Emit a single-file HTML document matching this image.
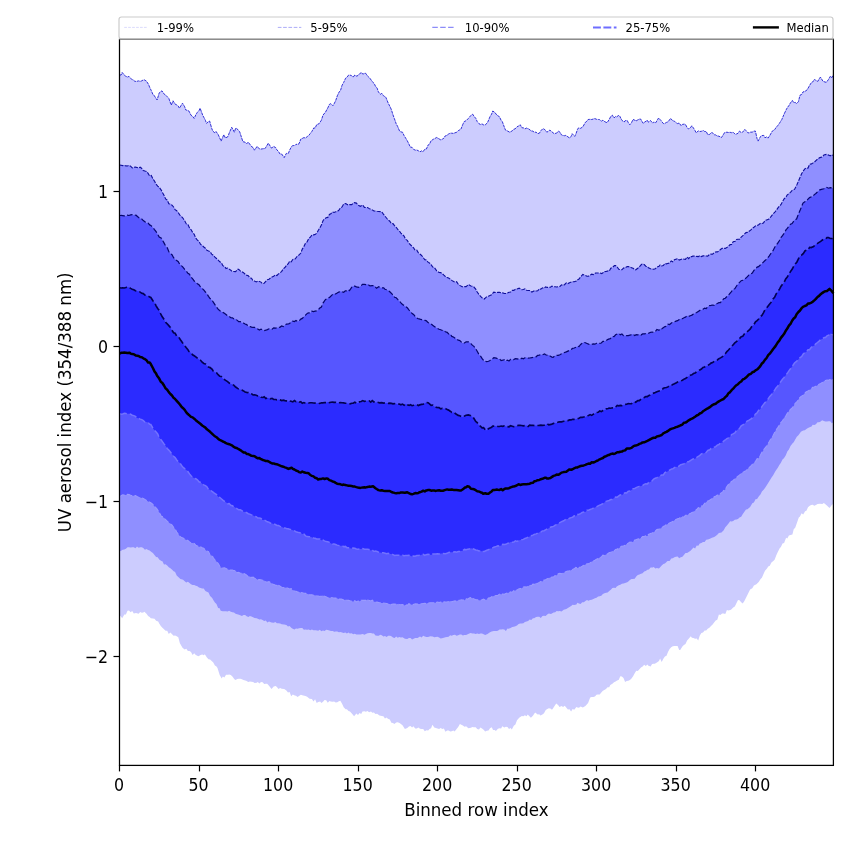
<!DOCTYPE html>
<html><head><meta charset="utf-8"><title>UV aerosol index percentiles</title>
<style>
html,body{margin:0;padding:0;background:#fff;}
body{width:850px;height:850px;overflow:hidden;}
svg{display:block;}
text{font-family:'DejaVu Sans','Liberation Sans',sans-serif;fill:#000;}
.tk{font-size:16.67px;}
.lg{font-size:11.6px;}
</style></head><body>
<svg width="850" height="850" viewBox="0 0 850 850">
<rect width="850" height="850" fill="#fff"/>
<path d="M119.5 75.0 L121.1 75.0 L122.2 72.5 L124.3 75.1 L125.4 76.0 L127.4 77.1 L129.0 76.4 L130.6 78.4 L131.7 79.2 L133.8 80.4 L134.9 81.4 L137.0 81.3 L138.6 80.9 L140.2 81.4 L141.8 80.8 L143.3 79.9 L144.4 79.9 L146.5 81.2 L148.6 84.5 L149.7 87.4 L151.3 90.6 L152.9 94.4 L153.9 95.1 L156.1 98.5 L157.1 100.0 L159.2 93.0 L160.8 91.4 L162.0 90.9 L164.5 94.5 L165.6 95.0 L167.7 97.2 L168.8 98.4 L171.3 105.1 L173.0 100.8 L175.1 104.1 L176.2 104.6 L178.3 106.1 L179.4 108.2 L182.5 103.2 L184.7 106.8 L185.7 109.9 L187.9 110.5 L188.9 111.0 L191.0 115.2 L192.6 116.4 L194.2 118.4 L195.8 114.8 L197.4 112.3 L199.0 110.6 L200.1 108.2 L202.7 115.2 L203.8 117.3 L205.4 120.3 L206.5 123.3 L208.5 121.6 L209.6 121.0 L211.7 128.3 L212.8 131.1 L214.9 132.9 L216.0 131.5 L218.1 134.4 L219.7 137.9 L221.1 141.1 L223.8 134.7 L225.5 138.1 L228.1 136.4 L229.2 133.0 L231.7 127.3 L234.4 132.2 L235.6 128.3 L236.7 128.4 L239.7 131.8 L242.9 141.7 L245.1 142.2 L246.7 143.8 L248.2 142.1 L250.3 144.9 L252.0 147.0 L253.1 147.5 L254.5 150.2 L257.1 146.4 L259.4 148.9 L260.9 149.1 L262.6 148.8 L265.1 148.5 L268.3 143.2 L271.5 148.1 L273.7 146.5 L275.7 147.6 L276.9 149.9 L278.5 151.5 L280.0 154.0 L281.7 154.0 L284.2 157.6 L286.3 153.4 L288.4 153.4 L289.6 150.2 L291.6 146.4 L292.8 145.6 L294.8 145.5 L296.0 144.3 L297.6 144.4 L299.0 143.8 L300.8 139.1 L302.2 138.5 L303.9 137.6 L305.5 138.0 L307.5 136.4 L308.7 135.5 L310.3 133.5 L311.9 131.4 L313.8 127.9 L315.1 128.1 L316.7 124.7 L319.1 123.7 L321.4 120.2 L323.0 115.1 L325.5 112.1 L327.8 107.9 L329.4 104.4 L330.8 103.6 L332.9 105.7 L334.1 103.8 L335.7 100.6 L337.3 95.8 L339.2 91.9 L340.5 90.5 L342.1 85.2 L343.7 82.4 L345.6 78.2 L346.9 77.4 L348.5 75.2 L349.8 75.0 L351.6 75.7 L353.2 77.1 L354.8 75.0 L356.2 76.1 L358.0 75.6 L359.6 73.7 L361.5 72.5 L362.8 74.2 L364.4 73.4 L365.7 73.3 L367.5 76.0 L369.9 78.2 L372.3 81.7 L374.2 83.5 L375.5 86.3 L377.1 88.1 L378.4 91.9 L380.3 94.3 L381.8 93.3 L383.4 95.7 L385.8 97.2 L388.2 103.1 L390.1 106.8 L391.4 109.7 L393.0 114.9 L394.3 118.4 L396.2 123.8 L397.7 126.6 L399.6 131.1 L400.9 131.9 L402.5 132.2 L404.1 135.6 L405.9 138.5 L407.3 140.8 L408.9 144.0 L410.2 147.0 L412.1 147.4 L413.6 149.4 L415.5 150.2 L416.8 150.0 L418.4 150.8 L420.0 151.8 L421.6 150.9 L422.9 151.9 L424.8 149.2 L426.4 149.0 L428.2 144.9 L429.5 144.2 L431.1 140.7 L433.5 139.2 L436.7 137.5 L439.1 138.9 L440.9 140.0 L442.3 139.2 L443.9 138.2 L445.1 136.0 L447.0 135.3 L448.6 134.0 L450.2 133.2 L451.5 133.2 L453.4 133.4 L455.0 132.8 L456.8 132.2 L458.2 130.7 L459.8 129.8 L461.0 129.0 L462.9 124.2 L464.2 121.6 L466.1 120.7 L468.4 118.4 L470.9 115.4 L472.7 114.2 L474.1 116.4 L475.8 118.4 L477.2 121.5 L479.0 123.7 L480.4 124.5 L482.0 123.8 L483.2 124.8 L485.2 124.9 L487.5 122.7 L490.0 116.7 L491.6 114.1 L492.8 111.0 L494.7 112.3 L497.0 115.2 L499.5 116.8 L501.1 120.3 L502.3 121.6 L504.3 127.1 L505.5 130.1 L507.5 131.0 L509.7 132.2 L512.2 130.9 L513.8 129.2 L515.0 129.0 L517.0 126.8 L518.6 126.0 L520.3 124.8 L521.8 127.7 L523.5 127.9 L524.9 128.9 L526.5 128.1 L528.8 129.0 L531.3 131.0 L532.9 131.1 L534.1 132.2 L536.1 132.2 L537.7 133.6 L539.4 133.2 L540.8 130.8 L542.5 129.0 L544.0 128.8 L545.6 130.6 L546.8 132.2 L548.8 130.9 L549.9 130.1 L552.0 131.9 L554.2 133.7 L556.7 133.1 L558.4 131.1 L559.9 132.1 L561.5 134.9 L562.6 135.4 L564.7 135.7 L565.8 135.4 L567.9 136.8 L569.6 138.1 L571.1 136.3 L572.2 133.7 L574.7 136.4 L575.8 134.3 L577.4 129.6 L578.5 127.9 L580.6 128.3 L582.8 126.9 L585.4 122.3 L587.0 121.1 L588.1 119.5 L590.1 119.3 L591.7 119.5 L593.4 119.0 L594.9 118.6 L596.5 119.3 L598.6 119.5 L599.7 119.7 L601.3 121.2 L602.9 120.2 L603.9 121.2 L606.0 122.3 L607.1 122.7 L609.2 119.5 L610.8 116.4 L612.4 115.2 L614.0 118.0 L615.6 116.4 L616.6 116.9 L618.8 115.3 L619.8 116.3 L621.9 120.3 L624.1 122.0 L625.1 120.7 L627.2 120.5 L628.3 122.6 L629.8 124.8 L631.5 122.7 L633.0 119.5 L634.7 120.0 L635.7 121.2 L637.8 119.9 L639.4 119.1 L640.6 119.0 L643.1 123.3 L644.2 122.4 L646.3 121.0 L647.4 120.3 L648.4 122.2 L650.5 120.5 L652.6 123.1 L653.7 122.0 L655.8 122.7 L656.9 120.7 L658.6 118.0 L661.0 120.5 L663.3 123.5 L664.3 123.7 L666.5 122.4 L668.0 121.9 L670.6 118.4 L672.8 120.8 L674.4 121.1 L675.9 122.7 L677.6 123.6 L679.2 123.0 L681.2 125.8 L682.4 124.4 L684.4 124.1 L685.5 124.6 L687.1 127.5 L688.6 129.0 L690.3 127.8 L691.8 125.8 L693.5 128.1 L695.1 130.7 L696.1 132.8 L698.3 130.9 L699.8 131.5 L701.4 131.3 L703.5 130.5 L704.6 131.5 L706.2 131.5 L707.8 134.7 L709.8 134.3 L711.9 132.2 L714.2 134.8 L715.7 134.9 L717.2 136.0 L718.9 136.2 L721.5 137.5 L724.6 132.6 L726.9 132.2 L728.5 132.5 L730.1 132.3 L731.6 132.7 L733.1 132.2 L735.2 134.3 L736.4 134.0 L738.0 133.3 L739.5 131.1 L741.2 132.6 L742.6 132.2 L744.8 129.4 L746.0 130.6 L747.9 132.8 L749.1 132.9 L750.7 132.1 L752.2 132.2 L753.9 131.1 L755.4 131.1 L757.1 138.9 L758.1 141.1 L760.6 136.4 L761.9 135.6 L763.8 135.4 L765.0 137.8 L766.6 136.9 L768.1 138.1 L769.8 135.5 L772.3 131.1 L774.6 129.7 L776.2 127.3 L777.6 125.8 L779.3 123.5 L781.8 119.5 L784.1 114.1 L786.1 109.9 L787.3 107.7 L788.9 105.6 L790.5 102.8 L792.4 100.4 L793.7 102.7 L795.2 102.4 L796.6 103.6 L798.4 101.7 L800.0 95.2 L801.6 94.5 L803.0 91.9 L804.8 91.5 L807.2 89.8 L809.6 85.5 L811.5 82.4 L812.7 82.0 L814.6 79.2 L815.9 80.6 L817.8 81.4 L819.1 79.0 L820.4 77.1 L823.1 81.4 L826.3 82.4 L828.6 79.3 L830.5 76.1 L831.8 77.7 L833.4 74.6 L833.4 503.8 L831.8 504.9 L829.5 508.1 L826.3 504.9 L823.9 503.1 L822.3 503.9 L819.9 503.8 L817.5 504.1 L815.9 504.9 L814.3 505.7 L812.7 504.8 L811.1 505.0 L809.4 506.0 L808.0 507.3 L806.4 510.8 L805.1 511.2 L803.2 514.6 L801.6 513.3 L800.0 516.5 L798.8 517.6 L796.8 523.2 L795.2 527.7 L793.7 529.2 L792.4 534.5 L790.5 535.1 L788.9 535.5 L787.3 538.4 L786.1 537.7 L784.1 543.0 L782.5 543.6 L780.9 547.0 L779.7 548.3 L777.8 551.9 L776.2 555.5 L774.6 559.7 L773.3 561.0 L771.4 562.6 L769.8 565.7 L768.2 566.4 L767.0 568.4 L765.0 570.8 L763.4 574.3 L761.9 577.7 L760.6 579.0 L758.7 582.0 L756.4 584.3 L753.9 585.6 L752.3 588.3 L750.1 589.6 L747.5 594.8 L746.0 597.7 L744.4 601.0 L742.7 603.4 L741.2 602.2 L739.5 600.2 L738.0 599.9 L736.4 603.2 L734.8 606.6 L733.2 607.6 L731.0 609.7 L728.5 610.4 L726.9 610.1 L725.3 614.1 L723.7 613.6 L722.1 613.4 L720.4 615.0 L718.9 614.6 L717.3 619.7 L715.7 620.6 L714.1 622.4 L712.6 624.5 L711.0 625.9 L709.4 627.7 L707.7 628.8 L706.2 630.6 L704.6 630.5 L703.0 632.5 L701.4 633.0 L699.8 635.6 L698.2 640.4 L696.7 638.5 L695.1 638.8 L693.5 638.0 L691.9 637.7 L690.8 636.2 L688.7 638.8 L687.1 640.4 L685.5 644.1 L683.9 645.1 L682.4 646.4 L680.2 649.9 L679.2 650.0 L677.6 646.1 L676.0 645.9 L674.4 645.9 L672.8 646.3 L671.2 647.3 L669.6 648.9 L668.0 651.9 L666.5 655.7 L664.9 656.4 L663.2 659.0 L661.7 662.0 L660.1 658.6 L659.0 661.0 L656.9 662.4 L654.8 663.7 L653.7 663.8 L652.1 664.1 L650.6 666.4 L648.4 665.8 L647.4 664.6 L645.8 666.1 L644.2 664.8 L642.6 666.6 L641.0 667.5 L639.4 669.3 L637.8 671.1 L636.2 670.8 L634.7 673.2 L633.1 676.3 L631.5 678.5 L629.9 680.0 L628.3 680.7 L626.7 680.9 L625.1 682.1 L623.5 678.0 L621.9 676.4 L620.3 676.2 L618.8 679.8 L616.7 680.7 L615.6 681.4 L614.0 682.3 L612.4 683.8 L610.3 684.9 L609.2 687.3 L607.6 687.3 L606.0 689.0 L603.9 690.2 L602.9 690.8 L601.3 692.5 L599.7 694.5 L597.6 694.4 L596.5 694.8 L594.9 696.6 L593.3 697.1 L591.7 697.1 L590.2 697.6 L588.1 702.9 L587.0 704.2 L585.4 706.0 L582.8 707.5 L580.6 706.4 L579.0 707.7 L577.4 707.5 L576.4 707.1 L574.2 709.8 L572.6 708.9 L571.1 711.4 L569.5 709.3 L567.9 709.6 L565.8 707.1 L564.7 705.8 L563.1 707.0 L561.5 705.9 L559.5 707.1 L558.3 705.3 L556.3 703.5 L555.2 705.1 L553.1 708.2 L552.0 709.7 L550.4 708.4 L548.8 708.3 L546.8 709.2 L545.6 710.2 L544.0 713.2 L542.4 714.4 L540.4 715.6 L539.3 714.3 L537.7 714.6 L535.1 712.4 L532.9 715.8 L530.9 717.7 L529.7 716.5 L527.7 714.5 L526.5 716.2 L524.9 715.3 L523.4 716.3 L521.8 715.9 L519.2 717.7 L517.0 720.2 L515.4 724.4 L513.8 725.7 L511.8 729.4 L510.6 727.9 L509.0 729.0 L507.5 726.9 L505.9 726.7 L504.3 727.6 L502.3 726.2 L501.1 728.6 L499.5 728.2 L497.9 728.8 L495.9 731.0 L494.7 730.1 L493.1 729.9 L491.7 727.2 L490.0 728.2 L488.5 730.4 L486.8 730.8 L485.2 731.6 L483.6 729.7 L482.0 728.5 L480.4 727.5 L479.0 729.5 L477.2 728.9 L475.7 727.3 L473.7 727.2 L472.5 727.0 L470.9 727.7 L468.4 728.3 L466.1 726.3 L464.5 726.7 L462.9 725.6 L461.3 724.8 L459.9 724.1 L458.2 726.9 L456.6 729.0 L454.6 731.5 L453.4 730.6 L451.8 731.3 L450.2 731.5 L448.6 730.5 L447.2 730.4 L445.4 731.7 L443.9 728.4 L442.3 729.1 L440.7 728.1 L439.1 728.9 L436.7 728.3 L434.3 727.5 L432.4 724.7 L431.1 728.3 L429.5 729.0 L428.2 730.4 L426.4 730.2 L424.8 731.3 L423.2 729.0 L421.8 728.9 L420.0 728.8 L418.4 727.4 L416.8 728.6 L415.2 728.4 L413.4 726.2 L412.1 727.4 L410.5 725.9 L408.9 726.5 L407.3 728.0 L404.9 728.9 L402.5 725.2 L400.9 723.9 L399.6 723.0 L397.7 722.3 L396.2 722.4 L394.3 724.1 L393.0 722.9 L391.4 722.7 L389.8 719.4 L387.9 718.8 L386.6 717.4 L385.0 718.6 L383.4 716.2 L381.8 716.0 L379.5 715.6 L377.1 713.7 L375.5 714.0 L373.9 712.6 L372.3 712.7 L371.0 711.4 L369.1 712.2 L367.5 711.0 L365.9 711.7 L364.4 711.2 L362.5 711.4 L361.2 714.0 L359.6 712.9 L358.0 714.9 L356.4 713.5 L354.1 716.2 L351.6 713.3 L350.0 711.6 L348.5 710.9 L346.9 709.3 L345.6 709.2 L343.7 707.2 L342.1 703.8 L340.3 700.8 L338.9 701.3 L337.3 702.3 L335.7 702.6 L334.1 701.5 L332.6 701.7 L330.8 701.4 L329.4 701.1 L327.8 702.7 L326.2 700.3 L324.6 700.0 L323.0 701.7 L321.4 703.0 L320.2 701.4 L318.2 701.9 L316.7 702.9 L315.1 699.2 L313.5 701.4 L311.9 699.1 L309.6 698.7 L307.1 696.8 L305.5 696.0 L303.2 695.5 L300.8 694.7 L299.0 696.0 L297.6 697.0 L296.0 695.7 L294.8 695.5 L292.8 694.6 L291.2 696.2 L289.6 692.0 L288.0 692.6 L286.4 690.4 L284.2 689.1 L281.7 688.7 L280.1 688.1 L278.5 689.1 L276.9 686.9 L275.7 686.0 L273.7 686.5 L271.5 689.1 L269.0 685.8 L267.2 683.8 L265.8 683.7 L264.2 684.1 L262.6 682.3 L261.0 682.1 L259.4 683.4 L257.8 682.0 L256.7 682.8 L254.6 683.1 L253.1 682.0 L251.5 681.7 L249.9 681.5 L248.3 682.0 L246.1 680.7 L243.5 680.0 L241.9 679.3 L240.3 678.8 L238.7 678.7 L237.2 678.9 L235.6 679.9 L234.4 679.2 L232.4 676.5 L230.8 675.1 L229.2 674.6 L228.1 674.7 L226.0 674.8 L224.4 677.4 L222.8 676.5 L221.7 678.5 L219.7 675.0 L217.5 668.0 L216.5 666.5 L214.9 665.5 L213.3 662.4 L212.2 661.6 L210.1 659.5 L208.5 659.2 L206.9 657.5 L204.8 654.2 L203.8 655.3 L202.2 654.6 L200.6 655.1 L198.4 656.3 L195.8 655.0 L194.2 653.2 L192.6 654.9 L191.0 652.1 L189.5 651.0 L187.9 650.9 L186.3 648.7 L184.7 649.5 L182.5 647.8 L179.9 643.3 L178.3 637.2 L176.7 636.2 L175.1 635.6 L173.6 635.7 L171.9 634.1 L170.4 632.4 L168.8 633.9 L167.2 630.8 L165.6 630.8 L163.5 628.8 L162.4 627.8 L160.8 625.9 L159.2 623.4 L158.2 621.4 L156.1 620.7 L154.5 618.8 L152.9 618.4 L150.8 618.2 L149.7 617.0 L148.1 616.0 L146.5 613.8 L144.4 611.8 L143.3 612.6 L141.8 612.7 L140.2 611.9 L138.6 613.8 L136.0 612.9 L133.8 613.5 L132.2 611.1 L130.6 612.3 L129.0 610.4 L127.5 610.8 L125.9 614.4 L124.3 614.6 L122.2 618.2 L121.1 616.8 L119.5 615.0Z" fill="#ccccfe"/>
<path d="M119.5 165.0 L121.1 165.3 L122.7 165.6 L124.3 165.3 L125.9 165.9 L127.5 166.0 L129.0 165.4 L130.6 166.2 L132.2 167.9 L133.8 167.2 L135.4 167.1 L137.0 167.5 L138.6 168.1 L140.2 167.1 L141.8 168.5 L143.3 170.5 L144.9 171.0 L146.5 171.4 L148.1 173.4 L149.7 176.1 L151.3 175.5 L152.9 178.8 L154.5 181.1 L156.0 184.0 L157.7 186.1 L159.2 187.3 L161.4 190.4 L162.4 192.4 L164.0 195.3 L165.6 198.9 L167.2 200.1 L168.8 203.7 L170.4 204.0 L172.0 205.2 L173.6 207.0 L175.1 209.7 L176.7 210.7 L178.3 212.7 L179.9 215.1 L182.5 217.5 L184.7 220.8 L186.3 223.9 L187.9 224.3 L189.5 227.9 L191.0 229.6 L192.6 232.4 L194.2 234.3 L195.8 238.2 L197.4 240.2 L199.0 241.3 L200.6 244.4 L202.2 245.3 L203.8 247.0 L205.4 248.2 L206.9 250.3 L208.0 250.8 L210.1 251.6 L211.7 254.2 L213.3 255.2 L214.9 257.2 L216.5 258.5 L218.5 260.3 L219.7 261.8 L221.3 262.5 L222.8 265.7 L224.9 266.6 L226.0 268.6 L227.6 268.0 L229.2 269.1 L230.8 270.2 L232.4 271.7 L233.4 271.5 L235.6 271.6 L237.6 269.4 L238.7 269.4 L240.3 270.9 L241.9 271.7 L243.5 272.7 L246.1 275.1 L248.3 275.7 L249.9 278.0 L251.5 278.2 L253.1 280.9 L254.5 281.0 L256.2 281.9 L257.8 281.1 L259.4 281.5 L261.0 282.1 L262.6 283.7 L264.1 283.2 L265.8 281.3 L267.4 279.7 L269.0 279.2 L271.5 277.2 L273.7 276.3 L275.3 274.9 L276.9 275.5 L278.5 273.9 L280.0 273.0 L281.7 271.4 L283.3 268.8 L284.9 267.5 L286.4 265.6 L288.4 263.5 L289.6 261.3 L291.2 261.8 L292.8 259.5 L294.8 259.2 L296.0 258.0 L297.6 255.5 L299.0 255.0 L300.8 253.0 L302.3 249.1 L303.9 246.6 L305.4 243.4 L307.1 241.8 L308.7 238.5 L310.6 237.0 L311.9 234.8 L313.5 234.9 L315.1 234.6 L317.0 232.8 L318.2 230.5 L319.8 228.0 L321.4 225.1 L323.0 220.7 L324.4 219.0 L326.2 217.7 L327.8 217.4 L329.4 214.5 L330.8 213.7 L332.6 211.9 L334.1 212.4 L335.7 211.8 L337.1 211.6 L338.9 210.1 L340.5 207.8 L342.1 206.9 L343.7 204.0 L345.6 203.5 L346.9 204.3 L348.5 205.2 L349.8 204.6 L351.6 204.6 L354.1 202.7 L356.4 203.1 L358.0 205.1 L360.4 206.3 L362.8 205.1 L364.4 207.4 L365.9 207.6 L367.5 207.5 L368.9 208.4 L370.7 209.4 L372.3 209.9 L373.9 211.0 L375.2 211.0 L377.1 211.3 L378.7 211.5 L380.5 211.6 L381.8 211.9 L383.4 214.1 L385.0 216.2 L386.9 218.5 L388.2 219.9 L389.8 221.2 L391.4 223.6 L393.0 223.6 L394.3 225.4 L396.2 227.3 L397.7 229.4 L399.3 230.9 L400.9 233.1 L402.8 234.9 L404.1 236.2 L405.7 239.4 L407.3 240.4 L408.9 243.2 L411.2 245.5 L413.6 247.9 L415.2 250.4 L416.8 250.2 L418.4 252.9 L419.7 253.9 L421.6 255.5 L423.2 257.5 L424.8 259.7 L426.4 259.9 L428.2 262.4 L429.5 263.0 L431.1 264.7 L432.7 267.1 L434.3 267.4 L436.7 270.9 L439.1 272.5 L440.7 272.6 L442.3 273.7 L443.9 275.2 L445.1 276.2 L447.0 277.6 L448.6 278.0 L450.2 279.1 L451.8 280.4 L453.6 281.5 L455.0 282.2 L456.6 281.7 L458.2 284.1 L459.8 285.4 L462.1 286.8 L464.5 286.6 L466.1 286.6 L468.4 284.6 L470.9 286.0 L472.5 286.3 L473.7 286.8 L475.7 289.1 L477.2 292.0 L479.0 294.5 L480.4 296.2 L482.0 297.8 L484.3 299.0 L486.8 296.7 L488.4 296.2 L490.0 295.4 L491.6 294.8 L493.8 292.1 L496.3 292.6 L497.9 292.3 L499.5 292.4 L501.1 292.8 L502.7 292.9 L504.4 293.5 L505.9 293.5 L507.5 293.0 L509.0 292.3 L510.6 292.0 L512.2 290.4 L513.8 290.4 L515.4 289.3 L517.0 289.0 L519.2 288.2 L521.8 289.7 L523.4 289.5 L524.9 288.8 L526.5 290.3 L528.1 290.5 L529.7 290.5 L531.9 292.1 L534.5 290.6 L536.1 291.0 L537.7 290.8 L539.3 288.8 L540.8 289.1 L542.5 287.8 L544.0 288.4 L545.6 286.9 L547.2 287.4 L548.8 287.3 L550.4 287.3 L552.0 286.1 L553.6 286.7 L555.2 286.8 L556.7 287.0 L558.3 286.7 L559.9 286.5 L561.5 284.8 L563.1 285.6 L564.7 284.5 L566.3 282.8 L567.9 283.6 L570.1 282.5 L572.6 281.7 L574.2 281.8 L576.4 281.0 L577.4 279.9 L579.0 279.1 L580.6 276.9 L582.8 274.5 L585.4 275.4 L587.0 276.2 L588.5 276.2 L590.1 275.2 L591.7 274.2 L593.3 274.6 L595.5 273.0 L598.1 273.0 L599.7 273.0 L601.8 273.6 L602.9 272.8 L604.4 271.6 L606.0 271.5 L608.2 270.9 L609.2 271.2 L610.8 268.2 L612.4 267.4 L614.5 265.6 L615.6 265.6 L617.2 267.0 L618.8 269.3 L620.9 269.8 L621.9 269.8 L623.5 268.1 L625.1 267.7 L627.2 266.6 L628.3 266.5 L629.9 267.1 L631.5 267.7 L633.1 268.3 L634.7 269.6 L635.7 269.8 L637.8 268.3 L639.4 266.8 L641.0 265.0 L642.1 264.1 L644.2 264.5 L645.8 266.2 L647.4 266.6 L648.4 267.7 L650.6 268.8 L652.1 269.1 L653.7 269.2 L655.3 268.8 L656.9 267.2 L659.0 266.3 L660.1 264.9 L661.7 266.0 L663.3 265.6 L664.9 263.5 L666.5 263.9 L667.5 263.5 L669.6 263.1 L671.2 260.9 L672.8 261.8 L674.4 259.8 L675.9 259.2 L677.6 258.6 L679.2 260.0 L680.8 259.4 L682.4 258.8 L684.4 259.2 L685.5 259.3 L687.1 257.0 L688.7 258.7 L690.3 256.6 L691.9 256.6 L692.9 256.1 L695.1 255.9 L696.7 256.4 L698.3 256.6 L699.8 255.6 L701.4 256.6 L703.0 255.9 L704.6 255.7 L706.2 256.0 L707.7 256.1 L709.4 254.6 L711.0 254.0 L712.6 254.2 L714.2 252.7 L716.2 251.8 L717.3 252.0 L718.9 251.0 L720.5 249.5 L722.1 248.3 L723.7 248.4 L725.3 248.4 L726.8 247.6 L728.5 246.3 L730.1 244.6 L731.6 244.5 L733.2 241.7 L735.2 241.2 L736.4 239.5 L738.0 239.2 L739.6 239.3 L741.2 237.0 L743.7 234.9 L746.0 232.6 L747.5 232.4 L749.1 231.2 L750.7 230.2 L752.2 228.5 L753.9 227.2 L755.5 225.9 L757.1 225.5 L758.7 224.7 L760.6 223.2 L761.9 223.5 L763.4 223.1 L765.0 220.6 L766.6 219.9 L769.1 219.0 L771.4 216.1 L773.0 214.0 L774.6 212.5 L776.2 210.5 L777.6 208.4 L779.3 206.2 L780.9 204.7 L782.5 201.6 L784.1 198.9 L786.1 196.8 L787.3 194.8 L788.9 193.7 L790.5 192.3 L792.1 190.4 L794.5 189.4 L796.8 184.9 L798.4 181.2 L800.0 177.5 L801.6 173.8 L803.0 171.4 L804.8 168.9 L806.4 167.9 L808.0 168.1 L809.6 164.3 L811.5 163.9 L812.7 163.1 L814.3 162.2 L815.9 160.7 L817.5 159.2 L819.9 157.6 L822.3 156.9 L823.9 155.0 L826.3 154.4 L828.6 155.1 L830.2 155.9 L831.8 154.6 L833.4 155.5 L833.4 422.3 L831.8 423.2 L830.2 421.3 L828.4 421.2 L827.0 421.4 L825.5 421.4 L823.9 420.9 L822.1 420.2 L820.7 421.6 L819.1 422.2 L817.5 422.3 L815.9 424.2 L814.3 425.0 L812.7 424.7 L811.5 426.5 L809.6 427.2 L808.0 428.1 L806.4 429.0 L804.8 430.2 L803.2 430.4 L800.9 431.8 L798.4 435.3 L796.8 436.7 L795.2 439.6 L793.7 442.2 L792.4 443.5 L790.5 446.1 L788.9 449.4 L787.3 451.6 L785.7 455.5 L783.9 458.3 L782.5 459.5 L780.9 462.8 L779.3 464.9 L777.8 467.8 L775.5 471.0 L773.0 475.5 L771.4 477.7 L769.1 481.6 L766.6 485.6 L765.0 487.9 L763.4 490.1 L761.9 491.4 L760.6 494.3 L758.7 496.6 L757.1 499.1 L755.5 499.2 L753.9 502.6 L752.3 503.3 L750.1 507.0 L747.5 509.3 L746.0 509.6 L744.4 511.8 L742.8 513.9 L741.2 516.8 L739.5 517.6 L738.0 519.0 L736.4 519.4 L734.8 519.7 L733.2 521.0 L731.6 521.4 L730.1 521.2 L728.9 522.9 L726.9 525.6 L725.3 527.2 L723.7 530.2 L721.5 532.4 L718.9 533.0 L717.3 534.7 L715.7 536.1 L714.2 537.1 L711.9 537.7 L709.4 538.9 L707.8 539.5 L706.2 539.8 L704.6 541.9 L703.0 541.9 L701.4 543.0 L699.8 543.6 L698.3 545.8 L696.7 545.4 L695.1 548.4 L693.5 547.5 L691.9 549.2 L690.8 550.4 L688.7 552.0 L687.1 552.9 L685.5 553.0 L683.9 554.9 L682.4 556.7 L680.2 557.4 L679.2 558.3 L677.6 556.4 L675.9 556.8 L674.4 557.3 L672.8 558.3 L671.2 558.6 L669.6 560.9 L667.5 561.0 L666.5 561.9 L664.9 563.4 L663.3 563.9 L661.7 565.6 L660.1 567.3 L659.0 568.4 L656.9 568.1 L655.3 568.5 L653.7 566.9 L652.7 567.4 L650.6 567.6 L649.0 569.5 L647.4 569.8 L645.8 570.9 L644.2 571.6 L642.6 573.2 L641.0 573.8 L639.4 574.4 L637.8 575.1 L636.2 576.6 L634.7 578.8 L632.5 579.0 L631.5 578.9 L629.9 580.1 L628.3 581.6 L627.2 582.2 L625.1 583.0 L623.5 583.5 L621.9 583.7 L620.3 584.8 L618.8 585.2 L616.7 586.4 L615.6 587.9 L614.0 587.8 L612.4 588.0 L610.8 589.8 L609.2 591.1 L607.6 592.4 L606.1 592.8 L604.4 593.3 L602.9 594.0 L601.3 595.7 L599.7 596.2 L598.1 596.4 L596.5 597.8 L594.9 598.3 L593.4 599.1 L591.7 599.8 L590.1 599.9 L588.5 600.7 L587.0 599.9 L585.4 601.0 L583.8 602.3 L582.2 602.3 L580.6 604.0 L579.0 603.4 L577.4 602.7 L576.4 604.4 L574.2 605.1 L572.6 604.8 L571.1 606.1 L569.5 606.9 L567.9 608.0 L566.3 609.0 L563.7 609.7 L561.5 611.5 L559.9 610.9 L558.3 611.2 L556.7 611.0 L555.2 612.2 L553.6 612.6 L551.0 613.9 L548.8 613.6 L547.2 614.6 L545.6 616.1 L544.0 615.8 L542.4 616.1 L540.8 618.0 L539.3 616.8 L537.7 616.7 L536.1 617.0 L534.1 618.2 L532.9 618.2 L531.3 620.0 L529.7 619.5 L528.1 621.0 L526.5 621.4 L524.9 622.1 L523.4 623.2 L521.4 623.5 L520.2 623.4 L518.6 624.0 L517.0 625.5 L515.4 626.2 L513.8 626.7 L512.2 627.0 L510.6 628.1 L508.6 628.8 L507.5 628.5 L505.9 631.0 L504.3 629.6 L502.7 629.3 L501.1 629.5 L499.5 629.6 L497.9 630.7 L496.3 631.0 L493.8 630.9 L491.6 631.4 L490.0 632.3 L487.5 634.1 L485.2 635.1 L483.6 634.2 L482.0 633.6 L480.4 633.5 L479.0 634.1 L477.2 633.6 L475.7 633.9 L474.1 633.5 L472.5 633.5 L470.5 633.0 L469.3 633.4 L467.7 634.2 L466.1 634.9 L464.2 635.1 L462.9 635.6 L461.3 634.5 L459.8 634.6 L458.2 635.2 L456.6 635.7 L455.0 634.7 L453.4 635.1 L451.5 635.8 L450.2 635.3 L448.6 636.8 L447.0 637.1 L445.4 637.3 L443.0 637.9 L440.7 638.6 L439.1 637.4 L437.5 636.7 L435.9 637.1 L434.3 637.2 L432.7 636.6 L430.3 636.2 L428.0 637.0 L426.4 637.1 L424.8 636.4 L423.2 635.8 L421.6 637.5 L420.0 636.5 L417.6 637.9 L415.2 637.9 L413.6 638.7 L412.1 639.4 L410.5 637.9 L408.9 637.9 L407.3 638.9 L404.9 638.7 L402.5 637.2 L400.9 637.6 L399.3 637.0 L397.7 637.8 L396.2 636.4 L394.6 637.9 L393.0 637.5 L391.4 636.3 L390.1 635.8 L388.2 635.8 L386.6 637.1 L385.0 635.9 L383.4 636.6 L381.8 635.2 L380.3 634.8 L378.7 635.8 L377.4 635.8 L375.5 635.6 L373.9 633.4 L372.3 633.6 L371.0 633.0 L369.1 633.0 L367.5 633.2 L365.9 634.0 L364.4 634.8 L362.8 634.1 L360.4 634.5 L358.0 634.4 L356.4 634.4 L354.8 633.7 L353.2 634.3 L351.6 633.3 L349.8 633.6 L348.5 632.5 L346.9 633.4 L345.3 632.5 L343.7 632.9 L342.1 632.5 L340.5 632.0 L338.9 632.2 L337.3 631.5 L335.7 631.6 L334.1 631.8 L332.9 630.9 L331.0 631.1 L329.4 630.5 L327.8 630.0 L326.2 629.8 L324.6 631.0 L323.0 630.6 L321.4 631.3 L319.8 629.8 L318.2 630.7 L315.9 630.2 L313.5 630.3 L311.9 629.5 L310.3 630.3 L308.7 629.4 L307.1 629.7 L305.5 629.6 L303.9 629.7 L302.3 627.9 L300.8 628.0 L299.0 628.3 L297.6 628.8 L296.0 628.6 L294.4 629.5 L292.7 628.8 L291.2 627.8 L289.6 626.1 L288.0 626.6 L286.4 625.0 L284.2 624.5 L281.7 624.3 L280.1 623.4 L278.5 623.2 L276.9 623.2 L275.3 621.9 L273.7 622.8 L271.5 622.4 L269.0 621.5 L267.4 622.6 L265.8 620.6 L264.2 621.1 L262.6 620.1 L261.0 619.3 L259.4 619.5 L257.8 618.7 L256.7 618.2 L254.6 618.0 L253.1 617.3 L251.5 616.6 L249.9 616.0 L248.3 616.9 L246.7 616.3 L245.1 615.1 L243.5 615.0 L241.9 615.9 L239.7 615.0 L237.2 614.2 L235.6 613.8 L234.0 612.6 L232.4 612.3 L230.8 611.8 L229.1 610.8 L227.6 611.6 L226.0 611.3 L224.4 611.2 L222.8 611.3 L220.7 610.8 L219.7 608.3 L218.1 608.0 L216.5 604.1 L214.9 602.4 L213.3 600.0 L212.2 598.1 L210.1 595.9 L208.5 592.5 L206.9 591.8 L205.4 590.9 L203.7 588.5 L202.2 588.6 L200.6 587.9 L199.0 587.4 L197.4 586.3 L195.8 585.7 L194.2 584.9 L192.6 584.9 L191.0 584.3 L189.5 582.9 L187.9 581.7 L186.3 582.6 L184.7 581.3 L183.1 579.7 L181.5 579.3 L180.4 579.0 L178.3 577.1 L176.7 575.4 L175.1 572.1 L173.6 571.3 L171.9 569.5 L170.4 568.3 L168.8 567.2 L167.2 565.4 L165.6 564.2 L164.0 564.4 L162.4 561.2 L161.4 561.0 L159.2 559.6 L157.7 557.3 L156.1 556.9 L154.5 555.0 L152.9 553.1 L150.8 551.5 L149.7 550.4 L148.1 549.9 L146.5 549.0 L144.9 549.7 L143.3 548.1 L141.8 547.3 L140.2 547.2 L138.6 547.7 L137.0 546.5 L135.4 548.3 L133.8 547.2 L132.2 547.3 L130.6 547.5 L129.0 547.2 L127.5 547.2 L125.9 548.7 L124.3 549.6 L122.7 549.7 L121.1 550.7 L119.5 551.5Z" fill="#8f8fff"/>
<path d="M119.5 215.8 L121.1 215.3 L122.7 215.6 L124.3 215.9 L125.9 215.9 L127.5 215.2 L129.0 215.5 L130.6 214.9 L132.2 214.7 L133.8 215.3 L136.0 215.2 L138.6 217.4 L140.2 218.5 L141.8 219.0 L143.3 220.6 L144.9 221.7 L146.5 223.1 L148.1 223.2 L149.7 224.9 L150.8 225.4 L152.9 227.4 L154.5 229.6 L156.1 231.7 L157.7 234.3 L159.2 237.0 L161.4 238.1 L162.4 240.0 L164.0 242.9 L165.6 246.0 L167.2 247.7 L168.8 251.5 L169.8 252.9 L172.0 254.7 L173.6 257.7 L175.1 259.3 L176.7 260.6 L178.3 261.7 L179.9 264.6 L182.5 266.6 L184.7 269.4 L186.3 271.2 L187.9 273.3 L189.5 274.2 L191.0 277.1 L193.1 279.4 L194.2 281.0 L195.8 282.2 L197.4 283.7 L199.0 284.8 L200.6 287.1 L202.2 288.5 L203.7 289.9 L205.4 292.0 L206.9 293.7 L208.5 296.3 L210.1 298.5 L212.2 300.5 L213.3 302.2 L214.9 304.6 L216.5 306.9 L218.1 309.2 L219.6 310.5 L221.3 311.6 L222.8 312.4 L224.4 313.3 L226.0 314.5 L227.6 315.7 L229.1 316.4 L230.8 317.7 L232.4 317.8 L234.0 318.9 L235.6 319.1 L237.6 320.6 L238.7 321.7 L240.3 321.7 L241.9 322.8 L243.5 323.1 L245.1 324.0 L246.7 324.6 L248.3 326.4 L250.3 326.6 L251.5 327.1 L253.1 327.3 L254.6 327.4 L256.2 328.0 L257.8 329.0 L259.4 330.0 L261.0 329.1 L262.6 329.8 L264.1 330.6 L265.8 330.2 L267.4 329.6 L269.0 328.8 L270.5 329.2 L272.1 329.2 L273.7 327.8 L275.7 328.1 L276.9 327.8 L278.5 327.6 L280.1 327.1 L281.7 325.9 L283.3 326.6 L284.9 325.2 L286.4 324.1 L288.4 323.8 L289.6 323.5 L291.2 321.5 L292.7 321.1 L294.4 321.5 L296.0 320.5 L297.6 321.4 L299.0 321.0 L300.8 319.1 L302.3 318.4 L303.9 316.8 L305.5 315.2 L307.5 313.2 L308.7 312.9 L310.3 312.9 L311.9 311.1 L313.5 311.6 L315.1 311.2 L316.7 310.8 L318.1 310.1 L319.8 308.0 L321.4 307.0 L323.0 303.1 L325.5 299.5 L327.8 298.6 L330.0 297.0 L333.0 294.1 L334.1 293.8 L335.7 294.0 L338.0 292.6 L340.5 291.2 L342.0 291.8 L343.7 292.3 L345.3 290.9 L347.0 290.9 L348.5 289.7 L349.5 290.6 L352.5 286.2 L354.8 286.2 L356.4 286.9 L358.5 287.4 L359.6 286.8 L361.0 285.9 L362.5 284.4 L364.4 284.3 L365.9 284.6 L367.5 284.2 L370.0 285.9 L372.3 285.7 L374.0 285.6 L375.5 287.1 L376.5 288.2 L378.7 286.7 L380.0 287.4 L381.8 287.8 L383.7 287.8 L385.0 289.3 L386.6 289.8 L388.2 290.3 L389.8 291.8 L392.2 294.2 L394.6 297.3 L396.2 297.8 L397.7 299.4 L399.3 300.9 L400.7 302.6 L402.5 304.5 L404.1 305.4 L405.7 306.7 L407.3 307.8 L409.1 310.1 L410.5 311.4 L412.1 313.5 L413.6 314.5 L415.2 316.6 L417.6 318.5 L420.0 319.2 L421.6 319.6 L423.2 320.0 L424.8 320.3 L426.1 320.6 L428.0 322.4 L429.5 323.3 L431.1 323.9 L432.7 325.3 L434.3 326.4 L436.7 328.1 L439.1 329.3 L440.7 329.8 L442.3 330.5 L443.9 330.3 L445.4 331.8 L447.2 332.3 L448.6 333.9 L450.2 333.9 L451.8 336.4 L453.4 337.0 L455.7 338.6 L458.2 340.2 L459.8 340.5 L462.1 342.9 L464.5 343.0 L466.1 341.8 L468.4 341.8 L470.9 343.6 L472.5 345.4 L473.7 346.1 L475.7 348.7 L477.2 351.3 L479.0 354.5 L480.4 355.8 L482.0 358.3 L484.3 361.3 L486.8 361.6 L488.5 361.3 L490.0 360.5 L491.6 359.4 L493.8 357.7 L496.3 358.2 L497.9 358.9 L499.5 358.9 L501.1 360.6 L502.7 360.2 L504.3 359.7 L505.5 360.9 L507.5 360.1 L509.0 361.0 L510.6 359.4 L512.2 359.5 L513.8 359.6 L515.4 358.6 L517.1 358.8 L518.6 359.2 L520.2 359.3 L521.8 358.1 L523.4 358.8 L524.9 357.8 L526.5 357.6 L528.1 358.1 L529.7 358.0 L531.9 357.7 L534.5 356.7 L536.1 356.8 L537.7 355.3 L539.3 355.1 L540.8 354.5 L542.4 354.9 L544.6 353.9 L545.6 354.7 L547.2 355.2 L548.8 355.0 L550.4 356.3 L552.0 357.1 L553.1 357.3 L555.2 355.7 L556.7 355.4 L558.3 355.4 L559.9 354.7 L561.5 353.8 L563.7 352.8 L566.3 351.9 L567.9 351.1 L569.5 350.3 L571.1 349.5 L572.6 348.4 L574.2 348.0 L576.4 347.1 L577.4 346.3 L579.0 346.5 L580.6 344.5 L582.2 343.3 L583.8 342.3 L585.4 342.8 L587.0 343.5 L589.1 344.4 L590.1 344.2 L591.7 344.4 L593.3 343.9 L594.9 344.2 L596.5 343.3 L598.1 343.6 L599.7 343.3 L601.3 343.0 L602.9 341.4 L604.4 341.3 L606.0 340.6 L607.6 339.6 L609.2 338.9 L610.3 338.6 L612.4 336.4 L614.0 336.7 L615.6 334.8 L617.7 333.8 L618.8 333.5 L620.3 334.7 L621.9 333.9 L623.5 335.6 L625.1 335.5 L626.7 335.6 L628.3 335.6 L629.9 335.2 L631.5 334.6 L633.1 334.2 L634.7 335.6 L636.2 334.7 L637.8 334.8 L639.4 334.4 L641.0 335.1 L642.6 333.9 L644.2 333.8 L645.8 333.6 L647.4 333.5 L648.4 333.4 L650.6 332.3 L652.1 332.0 L653.7 332.4 L655.3 331.7 L656.9 329.5 L659.0 330.2 L660.1 328.7 L661.7 328.8 L663.3 327.7 L664.9 326.6 L666.5 326.3 L668.0 324.1 L669.6 324.5 L671.7 322.8 L672.8 322.4 L674.4 321.9 L676.0 321.1 L677.6 320.7 L679.2 319.6 L680.8 318.8 L682.4 318.7 L684.4 317.5 L685.5 317.1 L687.1 315.8 L688.7 316.4 L690.3 315.7 L691.9 315.1 L693.5 313.9 L695.0 313.2 L696.7 312.5 L698.3 311.4 L699.8 310.4 L701.4 310.0 L703.0 309.3 L704.6 308.1 L706.2 308.5 L707.7 306.9 L709.4 305.6 L711.0 305.4 L712.6 305.0 L714.2 305.3 L715.7 304.1 L717.3 303.5 L718.9 302.7 L720.4 302.6 L722.1 300.6 L723.7 298.8 L725.3 298.2 L726.9 296.5 L728.5 295.1 L731.0 292.1 L733.2 289.2 L734.8 288.8 L737.4 284.6 L739.6 282.4 L741.2 280.7 L742.8 280.2 L744.4 279.1 L746.0 278.1 L747.9 276.2 L749.1 274.6 L750.7 273.9 L752.3 273.0 L753.9 270.4 L755.5 269.0 L757.1 267.1 L758.5 266.6 L760.3 265.0 L761.9 263.7 L763.4 262.1 L765.0 260.5 L766.6 259.2 L769.1 256.1 L771.4 252.7 L773.0 250.7 L774.6 247.5 L776.2 245.2 L777.6 243.4 L779.3 240.7 L780.9 237.6 L782.5 235.7 L784.1 233.4 L786.1 229.6 L787.3 228.4 L788.9 226.1 L790.5 224.3 L792.1 223.5 L794.5 220.1 L796.6 219.0 L798.4 214.1 L800.0 210.6 L801.6 206.5 L803.0 203.1 L804.8 201.8 L806.4 201.1 L808.0 199.2 L809.6 197.6 L811.5 196.8 L812.7 196.4 L814.3 194.6 L815.9 193.5 L817.5 191.8 L819.9 189.8 L822.3 189.2 L823.9 188.8 L826.3 187.2 L828.6 188.2 L830.2 187.7 L831.8 187.9 L833.4 188.3 L833.4 380.0 L831.8 379.8 L830.5 378.9 L828.6 380.3 L827.0 380.0 L825.5 380.4 L824.2 381.0 L822.3 382.6 L820.7 383.5 L819.1 384.3 L817.5 385.3 L815.7 386.3 L814.3 387.0 L812.7 387.3 L811.1 389.0 L809.6 390.0 L808.0 391.1 L806.4 391.7 L805.1 392.7 L803.2 395.1 L801.6 396.1 L800.0 397.3 L798.8 399.0 L796.8 402.0 L795.2 403.3 L793.7 405.9 L792.1 407.8 L790.3 409.6 L788.9 411.2 L787.3 413.4 L785.7 416.3 L783.9 418.1 L782.5 421.0 L780.9 422.5 L779.3 425.2 L777.8 427.6 L775.5 430.8 L773.0 435.8 L771.4 438.0 L769.8 440.7 L768.2 443.4 L767.0 445.6 L765.0 448.2 L763.4 450.2 L761.9 452.4 L760.3 455.5 L758.5 458.3 L757.1 458.8 L755.5 461.6 L753.9 463.0 L752.3 464.4 L750.1 466.8 L747.5 468.9 L746.0 470.8 L744.4 471.4 L742.8 472.5 L741.2 473.3 L739.5 475.2 L738.0 476.2 L736.4 477.7 L734.8 478.8 L733.2 480.5 L731.6 481.5 L730.1 482.8 L728.9 483.7 L726.9 486.5 L725.3 489.4 L723.7 490.4 L722.5 492.2 L720.5 493.3 L718.9 495.5 L717.3 495.0 L715.7 496.3 L714.2 496.8 L711.9 498.5 L709.4 500.4 L707.8 501.1 L706.2 502.0 L704.6 503.4 L703.0 505.8 L701.4 506.0 L699.8 508.2 L698.3 507.6 L696.7 509.5 L695.1 510.6 L693.5 512.0 L691.9 512.4 L690.8 513.4 L688.7 514.0 L687.1 515.2 L685.5 515.2 L683.9 517.1 L682.4 516.8 L680.2 517.6 L679.2 518.2 L677.6 518.7 L676.0 519.5 L674.4 520.3 L672.8 521.6 L671.2 522.2 L669.6 522.9 L668.0 523.9 L666.5 524.4 L664.9 525.7 L663.3 526.4 L661.7 528.1 L660.1 528.5 L659.0 529.0 L656.9 529.6 L655.3 531.2 L653.7 532.1 L652.1 533.0 L650.6 533.5 L648.4 534.5 L647.4 536.0 L645.8 535.9 L644.2 536.5 L642.6 536.6 L641.0 538.0 L639.4 538.7 L637.8 539.1 L635.7 539.8 L634.7 540.1 L633.1 541.8 L631.5 542.2 L629.9 542.1 L628.3 543.1 L626.7 544.1 L625.1 545.3 L623.0 546.2 L621.9 546.1 L620.3 547.1 L618.8 548.4 L617.2 549.1 L615.6 549.4 L614.0 551.2 L612.4 551.1 L610.8 552.2 L609.2 552.5 L608.2 553.6 L606.0 554.5 L604.4 555.6 L602.9 555.2 L601.3 557.0 L599.7 557.6 L598.1 558.4 L596.5 559.3 L594.9 560.2 L593.4 561.0 L591.7 561.6 L590.1 562.9 L588.5 563.7 L587.0 563.9 L585.4 564.6 L583.8 565.2 L582.2 566.3 L580.6 567.2 L578.5 567.4 L577.4 568.1 L575.8 567.4 L574.2 568.8 L572.6 569.5 L571.1 569.9 L569.5 570.9 L567.9 571.0 L566.3 571.6 L563.7 572.7 L561.5 573.8 L559.9 573.3 L558.3 573.7 L556.7 575.2 L555.2 575.6 L553.6 577.0 L552.0 577.0 L550.4 577.6 L548.8 578.0 L546.8 579.0 L545.6 579.7 L544.0 580.1 L542.4 581.5 L540.8 581.5 L539.3 582.4 L537.7 583.5 L536.1 583.0 L534.1 584.3 L532.9 584.1 L531.3 585.9 L529.7 584.9 L528.1 586.4 L526.5 587.1 L524.9 586.9 L523.4 587.0 L521.4 588.5 L520.2 588.5 L518.6 588.9 L517.0 590.1 L515.4 590.5 L513.8 590.6 L512.2 592.4 L510.6 591.9 L508.6 592.8 L507.5 592.7 L505.9 593.4 L504.3 594.3 L502.7 594.0 L501.1 594.3 L499.5 594.0 L497.9 595.4 L496.3 595.5 L493.8 595.9 L491.6 596.8 L490.0 597.9 L488.4 598.1 L486.8 599.6 L485.4 600.2 L483.6 599.2 L482.0 599.8 L480.4 600.5 L479.0 600.2 L477.2 599.8 L475.7 599.8 L474.1 599.0 L472.5 597.9 L470.5 597.6 L469.3 598.0 L467.7 599.1 L466.1 598.8 L464.5 600.2 L462.9 600.0 L461.3 599.9 L459.9 600.2 L458.2 600.3 L456.6 601.3 L455.0 600.9 L453.4 601.3 L451.8 601.8 L450.2 601.1 L448.6 601.7 L447.2 601.9 L445.4 602.0 L443.9 601.8 L442.3 602.6 L440.7 602.1 L439.1 602.6 L437.5 602.1 L435.9 602.7 L434.3 602.6 L432.7 602.8 L430.3 602.7 L428.0 603.1 L426.4 603.6 L424.8 603.4 L423.2 603.5 L421.6 603.7 L420.0 603.9 L417.6 604.0 L415.2 603.9 L413.6 604.4 L412.1 604.8 L410.5 604.5 L408.9 603.6 L407.3 605.3 L405.7 604.8 L404.1 605.5 L402.5 604.5 L400.7 604.8 L399.3 604.5 L397.7 604.0 L396.2 604.2 L394.6 604.0 L393.0 604.1 L391.4 604.6 L389.8 604.0 L388.2 604.0 L386.6 603.5 L385.0 603.2 L383.4 603.0 L381.8 602.9 L379.5 602.7 L377.1 602.1 L375.5 602.2 L373.9 601.6 L372.3 600.2 L370.7 600.9 L368.9 600.2 L367.5 599.4 L365.9 600.4 L364.4 600.2 L362.8 600.4 L361.2 600.2 L359.6 601.2 L358.0 601.1 L356.4 601.9 L354.8 600.7 L353.2 601.6 L351.9 601.2 L350.0 600.8 L348.5 600.4 L346.9 600.1 L345.3 599.7 L343.7 600.1 L341.4 599.1 L338.9 599.1 L337.3 598.6 L335.7 598.1 L334.1 598.0 L332.6 597.8 L331.0 597.4 L329.4 597.7 L327.8 598.0 L326.5 597.0 L324.6 596.3 L323.0 595.6 L321.4 596.1 L319.8 596.5 L318.2 596.0 L316.7 595.8 L315.1 595.3 L313.5 595.3 L311.9 594.8 L309.6 594.9 L307.1 593.7 L305.5 593.4 L303.9 593.2 L302.3 592.8 L300.8 592.4 L299.0 591.9 L297.6 592.1 L296.0 591.3 L294.4 591.0 L292.8 590.2 L291.2 588.7 L289.6 589.0 L288.0 588.3 L286.4 587.7 L284.2 587.5 L281.7 587.2 L280.1 586.2 L278.5 584.7 L276.9 585.5 L275.3 585.1 L273.7 584.6 L271.5 583.2 L269.0 581.7 L267.4 582.0 L265.8 581.9 L264.2 580.5 L262.6 580.2 L261.0 579.9 L259.4 579.6 L257.8 579.9 L256.7 579.0 L254.6 578.2 L253.1 577.2 L251.5 577.5 L249.9 576.6 L248.3 576.6 L246.1 574.8 L243.5 573.3 L241.9 573.4 L240.3 573.2 L238.7 572.4 L237.2 572.7 L235.6 570.6 L233.4 570.5 L232.4 570.1 L230.8 570.1 L229.2 570.1 L227.6 569.3 L226.0 568.5 L224.4 567.7 L222.8 568.0 L220.7 567.4 L219.7 566.0 L218.1 563.4 L216.5 561.6 L214.9 560.0 L213.3 557.8 L212.2 555.7 L210.1 554.9 L208.5 551.6 L206.9 550.9 L205.4 550.0 L203.7 548.3 L202.2 547.7 L200.6 546.8 L199.0 546.7 L197.4 545.9 L195.8 545.2 L194.2 543.5 L192.6 543.0 L191.0 543.0 L189.5 541.9 L187.9 540.5 L186.3 540.0 L184.7 539.2 L183.1 538.1 L181.5 537.6 L180.4 536.7 L178.3 534.2 L176.7 532.0 L175.1 528.9 L173.6 527.4 L171.9 525.0 L170.4 523.8 L168.8 522.6 L167.2 521.2 L165.6 519.6 L164.0 518.1 L162.4 516.5 L161.4 516.5 L159.2 512.3 L157.1 509.1 L156.1 507.8 L154.5 506.5 L152.9 504.3 L150.8 502.8 L149.7 502.2 L148.1 501.4 L146.5 500.5 L144.9 499.4 L143.3 498.6 L141.8 497.9 L140.2 497.5 L138.6 497.3 L137.0 496.5 L135.4 495.6 L133.8 495.7 L132.2 495.7 L130.6 495.2 L129.0 494.6 L127.5 494.3 L125.9 495.0 L124.3 495.0 L122.7 494.9 L121.1 495.8 L119.5 496.4Z" fill="#5656ff"/>
<path d="M119.5 287.8 L121.1 288.0 L122.7 287.9 L124.3 288.0 L125.9 287.5 L127.4 286.9 L129.6 287.8 L130.6 288.4 L132.2 289.2 L133.8 289.8 L135.4 290.8 L137.0 291.1 L138.6 291.3 L140.2 292.1 L141.8 293.3 L143.3 293.6 L144.9 295.0 L146.5 295.4 L148.1 296.2 L149.7 296.9 L150.8 297.4 L152.9 300.7 L154.5 302.6 L156.1 305.8 L157.7 308.5 L159.2 310.3 L160.8 314.1 L162.4 317.1 L163.5 318.5 L165.6 322.3 L167.2 323.8 L168.8 325.6 L170.4 327.4 L171.9 330.2 L173.6 332.8 L175.1 333.3 L176.7 336.0 L178.3 336.5 L180.4 339.7 L181.5 341.2 L183.1 343.7 L184.7 345.7 L186.3 347.8 L187.9 349.7 L188.9 351.4 L191.0 352.7 L192.6 354.8 L194.2 355.8 L195.8 356.8 L197.4 358.2 L199.5 359.8 L200.6 360.3 L202.2 362.2 L203.8 363.5 L205.4 363.9 L206.9 365.5 L208.5 367.1 L210.1 367.6 L212.2 369.4 L213.3 371.1 L214.9 372.2 L216.5 372.8 L218.1 374.7 L219.7 376.2 L221.3 376.4 L222.8 378.5 L224.9 379.9 L226.0 380.6 L227.6 381.6 L229.2 383.1 L230.8 383.7 L232.4 384.4 L234.0 385.4 L235.6 387.0 L237.6 388.4 L238.7 389.1 L240.3 389.5 L241.9 390.1 L243.5 390.9 L245.1 392.0 L246.7 392.4 L248.3 392.6 L250.3 393.7 L251.5 393.9 L253.1 395.0 L254.6 394.8 L256.2 395.3 L257.8 395.9 L259.4 396.0 L261.0 397.3 L263.0 397.5 L264.2 396.8 L265.8 398.5 L267.4 398.0 L269.0 397.9 L270.5 398.8 L272.1 398.3 L273.7 399.4 L275.7 399.5 L276.9 399.9 L278.5 399.6 L280.1 399.9 L281.7 400.6 L283.3 400.1 L284.9 400.6 L286.4 400.9 L288.0 401.6 L289.6 400.9 L291.2 401.3 L292.8 401.9 L294.4 400.6 L296.0 401.7 L297.6 401.3 L299.0 402.2 L300.8 401.6 L302.3 403.2 L303.9 402.6 L305.5 403.2 L307.1 402.6 L308.7 403.0 L310.3 402.7 L311.9 402.7 L313.5 403.0 L315.9 403.2 L318.2 403.1 L319.8 403.5 L321.4 402.8 L323.0 402.9 L324.6 402.5 L326.2 402.6 L327.8 401.9 L329.4 402.7 L330.8 402.2 L332.6 402.1 L334.1 402.4 L335.7 402.3 L337.3 402.9 L338.9 402.8 L340.5 402.7 L342.1 402.8 L343.7 402.9 L345.3 403.2 L346.9 403.2 L348.5 403.6 L350.0 403.8 L351.9 403.2 L353.2 403.2 L354.8 402.2 L356.4 403.1 L358.0 403.0 L359.6 401.8 L361.2 401.5 L362.8 400.6 L364.4 401.4 L366.8 400.7 L369.1 400.7 L370.7 402.1 L372.3 400.6 L373.9 401.9 L375.5 402.4 L377.1 402.2 L379.5 402.8 L381.8 402.6 L383.4 403.1 L385.0 402.9 L386.6 403.1 L388.2 403.3 L389.8 403.2 L391.4 403.4 L393.0 403.9 L394.3 403.7 L396.2 403.8 L397.7 404.2 L399.3 404.0 L400.9 404.8 L402.5 404.1 L404.1 405.2 L405.7 403.8 L407.3 404.8 L409.1 405.4 L410.5 404.7 L412.1 405.7 L413.6 405.3 L415.2 404.6 L416.8 404.8 L418.4 405.5 L419.7 404.9 L421.6 404.4 L423.2 404.3 L424.8 403.0 L426.4 402.6 L428.2 402.8 L429.5 403.8 L431.1 405.3 L432.7 405.1 L434.3 406.4 L436.7 407.5 L439.1 407.6 L440.7 408.8 L442.3 408.4 L443.9 408.7 L445.4 408.5 L447.2 409.6 L448.6 410.1 L450.2 411.2 L451.8 412.4 L453.4 412.2 L455.7 413.8 L458.2 415.4 L459.8 415.7 L462.1 417.0 L464.5 416.1 L466.1 415.3 L468.4 414.9 L470.9 415.7 L472.5 416.9 L473.7 418.1 L475.7 421.5 L477.2 422.6 L479.0 425.5 L480.4 426.2 L482.0 427.9 L483.6 427.6 L485.2 429.7 L486.4 430.3 L488.4 428.8 L490.0 428.0 L491.6 427.2 L492.8 426.1 L494.7 426.1 L496.3 426.1 L497.9 426.5 L499.5 426.5 L501.1 426.0 L502.7 426.3 L504.3 425.9 L506.5 426.5 L509.0 426.8 L510.6 425.7 L512.2 426.2 L513.8 426.7 L515.4 426.2 L517.0 425.7 L518.6 425.4 L520.2 425.3 L521.4 425.5 L523.4 425.8 L524.9 425.6 L526.5 425.5 L528.1 426.5 L529.7 425.2 L531.3 425.3 L532.9 425.3 L534.5 425.6 L536.1 425.6 L538.3 425.5 L540.8 425.2 L542.4 425.4 L544.0 425.2 L545.6 424.7 L547.2 423.7 L548.8 424.9 L551.0 424.4 L553.6 423.4 L555.2 423.1 L556.7 422.9 L558.3 422.0 L559.9 421.8 L561.5 421.8 L563.7 421.2 L566.3 420.6 L567.9 420.6 L569.5 419.9 L571.1 419.9 L572.6 419.3 L574.2 419.3 L576.4 419.1 L577.4 418.9 L579.0 418.2 L580.6 417.3 L582.2 417.3 L583.8 417.0 L585.4 416.9 L587.0 416.0 L588.5 415.4 L590.1 414.6 L591.7 415.4 L593.4 414.2 L594.9 413.2 L596.5 412.5 L598.1 412.3 L599.7 411.0 L601.3 411.6 L602.9 410.6 L604.4 410.1 L606.0 408.9 L608.2 408.5 L609.2 408.0 L610.8 408.2 L612.4 407.8 L614.0 408.2 L615.6 407.1 L617.2 405.5 L618.8 405.9 L620.3 405.4 L621.9 405.6 L623.0 404.9 L625.1 404.4 L626.7 404.3 L628.3 403.6 L629.9 403.7 L631.5 403.7 L633.1 402.5 L634.7 401.6 L635.7 402.2 L637.8 400.5 L639.4 400.6 L641.0 399.0 L642.6 398.4 L644.2 397.5 L645.8 396.5 L647.4 396.6 L648.4 395.8 L650.6 394.9 L652.1 394.0 L653.7 393.1 L655.3 392.6 L656.9 391.8 L659.0 391.0 L660.1 390.7 L661.7 390.3 L663.3 388.2 L664.9 387.7 L666.5 387.5 L668.0 386.9 L669.6 385.5 L671.7 385.2 L672.8 384.4 L674.4 383.7 L676.0 382.9 L677.6 382.1 L679.2 381.4 L680.8 381.0 L682.4 380.2 L684.4 378.9 L685.5 378.5 L687.1 377.4 L688.7 376.1 L690.3 375.2 L691.9 374.8 L693.5 373.6 L695.1 373.0 L697.1 371.5 L698.3 370.9 L699.8 369.9 L701.4 369.1 L703.0 367.4 L704.6 367.0 L706.2 365.9 L707.8 365.6 L709.8 364.1 L711.0 363.1 L712.6 362.6 L714.2 361.4 L715.7 360.8 L717.3 360.0 L718.9 358.7 L720.5 357.9 L722.5 356.7 L723.7 355.4 L725.3 353.8 L726.9 351.6 L728.5 350.0 L731.0 347.1 L733.2 344.7 L734.8 342.9 L736.4 341.7 L738.0 340.2 L739.5 338.6 L741.2 336.7 L742.8 336.3 L744.4 333.9 L746.0 333.1 L747.5 331.5 L750.1 329.1 L752.3 325.7 L753.9 324.5 L755.5 321.9 L757.1 320.6 L758.7 319.0 L760.6 316.4 L761.9 315.4 L763.4 312.8 L765.0 309.7 L766.6 308.0 L769.1 304.8 L771.4 301.9 L773.0 299.0 L774.6 297.3 L776.2 293.9 L777.8 291.6 L779.7 288.9 L780.9 286.4 L782.5 284.2 L784.1 282.3 L785.7 278.9 L787.3 277.0 L788.9 274.3 L790.3 271.9 L792.1 269.3 L793.7 266.4 L795.2 263.9 L796.8 262.2 L798.8 258.2 L800.0 256.2 L801.6 255.2 L803.2 253.6 L805.1 250.8 L806.4 250.3 L808.0 250.0 L809.6 247.3 L811.1 247.6 L813.6 246.5 L815.9 244.3 L817.5 243.4 L819.1 242.4 L820.7 241.4 L822.1 240.2 L823.9 239.1 L825.5 239.1 L827.0 237.5 L828.4 237.6 L830.2 238.5 L831.8 238.5 L833.4 239.1 L833.4 335.0 L831.8 334.4 L830.5 333.4 L828.6 335.2 L827.0 335.8 L825.5 337.5 L824.2 337.6 L822.3 338.9 L820.7 339.6 L819.1 341.1 L817.5 342.5 L815.7 343.9 L814.3 345.5 L812.7 346.3 L811.1 347.5 L809.6 349.7 L808.0 349.7 L806.4 351.7 L805.1 352.4 L803.2 354.1 L801.6 356.6 L800.0 357.6 L798.4 359.4 L796.8 361.1 L794.5 363.0 L792.1 366.6 L790.5 368.7 L788.9 370.9 L787.3 373.3 L786.1 374.7 L784.1 377.5 L782.5 379.2 L780.9 381.5 L779.3 383.9 L777.6 386.3 L776.2 387.6 L774.6 390.4 L773.0 392.0 L771.4 394.9 L769.8 396.4 L768.1 399.0 L766.6 401.1 L765.0 402.6 L762.8 405.4 L760.3 409.0 L758.7 410.3 L757.1 412.7 L755.5 414.1 L754.3 415.9 L752.3 417.9 L750.7 419.1 L749.1 420.1 L747.5 421.0 L746.0 422.1 L743.7 424.4 L741.2 425.8 L739.6 428.5 L738.0 429.3 L736.4 430.7 L734.8 432.9 L733.1 433.9 L731.6 434.6 L730.1 436.8 L728.5 437.8 L726.9 438.7 L725.3 440.0 L723.7 441.0 L722.5 442.4 L720.5 442.9 L718.9 444.5 L717.3 445.1 L715.7 446.6 L714.2 447.2 L712.6 448.2 L711.0 448.4 L709.8 449.8 L707.8 450.5 L706.2 452.4 L704.6 453.1 L703.0 453.4 L701.4 453.9 L699.8 455.3 L698.3 456.5 L697.1 457.2 L695.1 458.8 L693.5 458.8 L691.9 459.7 L690.3 460.7 L688.7 461.7 L687.1 461.7 L685.5 463.0 L684.4 463.6 L682.4 464.3 L680.8 464.7 L679.2 465.9 L677.6 467.2 L676.0 466.8 L674.4 467.7 L672.8 468.8 L671.7 468.9 L669.6 470.2 L668.0 471.3 L666.5 471.9 L664.9 472.6 L663.3 475.0 L661.7 475.1 L660.1 475.9 L659.0 476.6 L656.9 477.6 L655.3 478.2 L653.7 479.1 L652.1 480.8 L650.6 481.7 L648.4 482.7 L647.4 483.9 L645.8 483.7 L644.2 484.3 L642.6 485.6 L641.0 485.9 L639.4 486.4 L637.8 486.9 L635.7 487.9 L634.7 488.4 L633.1 488.6 L631.5 490.1 L629.9 491.0 L628.3 491.3 L626.7 492.9 L625.1 492.7 L623.0 494.3 L621.9 495.2 L620.3 494.9 L618.8 495.9 L617.2 497.2 L615.6 497.1 L614.0 498.0 L612.4 499.5 L610.8 499.5 L609.2 500.5 L608.2 500.7 L606.0 501.4 L604.4 502.5 L602.9 503.6 L601.3 504.5 L599.7 505.1 L598.1 505.9 L596.5 506.8 L594.9 507.4 L593.4 508.1 L591.7 508.9 L590.1 509.5 L588.5 510.2 L587.0 510.3 L585.4 511.9 L583.8 512.1 L582.2 512.4 L580.6 513.6 L578.5 514.4 L577.4 514.4 L575.8 516.2 L574.2 515.9 L572.6 517.2 L571.1 517.6 L569.5 518.3 L567.9 519.1 L566.3 519.0 L563.7 520.8 L561.5 521.7 L559.9 522.6 L558.3 523.5 L556.7 524.6 L555.2 525.1 L553.6 526.4 L552.0 526.7 L550.4 527.2 L548.9 528.2 L547.2 528.9 L545.6 529.8 L544.0 530.7 L542.4 530.9 L540.8 532.0 L539.3 532.2 L537.7 533.2 L536.1 533.9 L534.1 534.5 L532.9 535.1 L531.3 535.7 L529.7 536.5 L528.1 537.0 L526.5 538.1 L524.9 538.4 L523.4 539.4 L521.4 539.8 L520.2 540.1 L518.6 540.4 L517.0 541.5 L515.4 540.9 L513.8 542.1 L512.2 542.3 L510.6 542.0 L508.6 543.0 L507.5 543.4 L505.9 544.3 L504.3 544.6 L502.7 544.4 L501.1 545.5 L499.5 545.9 L497.9 545.8 L496.3 546.4 L493.8 547.2 L491.6 548.5 L490.0 548.6 L488.4 549.8 L486.8 550.3 L484.3 551.5 L482.0 551.6 L480.4 550.6 L479.0 551.0 L477.2 550.3 L475.7 550.0 L474.1 549.3 L472.5 548.6 L470.5 548.3 L469.3 549.1 L467.7 549.3 L466.1 549.8 L464.5 549.4 L462.9 550.6 L461.3 550.9 L459.9 551.5 L458.2 551.5 L456.6 552.2 L455.0 551.8 L453.4 552.1 L451.8 552.3 L450.2 552.2 L448.6 552.5 L447.0 553.3 L445.4 553.7 L443.0 553.6 L440.7 553.6 L439.1 553.9 L437.5 553.8 L435.9 554.1 L434.3 554.1 L432.7 554.1 L431.1 554.9 L429.5 554.5 L428.0 554.2 L426.1 554.7 L424.8 555.4 L423.2 554.4 L421.6 554.8 L420.0 555.2 L418.4 555.5 L416.8 555.6 L415.2 556.3 L413.4 556.1 L412.1 556.4 L410.5 555.7 L408.9 555.3 L407.3 555.6 L405.7 555.5 L404.1 555.7 L402.5 555.2 L400.9 555.6 L399.3 555.3 L397.7 555.2 L396.4 555.3 L394.6 555.4 L393.0 554.6 L391.4 554.0 L389.8 553.9 L388.2 553.3 L386.6 553.7 L385.0 553.2 L383.4 552.7 L381.8 552.8 L379.5 552.5 L377.1 551.5 L375.5 551.1 L373.9 551.5 L372.3 550.1 L370.7 550.4 L368.9 549.4 L367.5 549.2 L365.9 549.3 L364.4 549.3 L362.8 548.6 L361.2 549.1 L359.6 549.1 L358.0 549.2 L356.4 548.9 L354.8 548.3 L353.2 548.0 L351.6 548.4 L349.8 548.3 L348.5 547.8 L346.9 547.7 L345.3 546.4 L343.7 546.7 L342.1 545.7 L340.5 545.7 L338.9 545.6 L337.1 545.1 L335.7 544.5 L334.1 544.0 L332.6 544.1 L331.0 543.4 L329.4 542.3 L327.8 541.7 L326.2 541.6 L324.4 540.9 L323.0 540.1 L321.4 540.3 L319.8 539.0 L318.2 538.9 L316.7 539.0 L315.1 538.3 L313.5 538.0 L311.9 537.3 L309.6 536.7 L307.1 536.6 L305.5 535.8 L303.9 534.0 L302.3 534.0 L300.8 533.1 L299.0 532.6 L297.6 532.3 L296.0 531.7 L294.4 530.9 L292.8 530.2 L291.2 529.6 L289.6 529.3 L288.0 528.7 L286.4 528.4 L284.9 527.9 L283.3 527.9 L282.1 527.1 L280.1 526.4 L278.5 525.6 L276.9 525.4 L275.3 524.5 L273.7 523.9 L272.1 523.4 L270.5 523.2 L269.0 522.3 L267.2 521.8 L265.8 520.8 L264.2 520.0 L262.6 519.9 L261.0 518.5 L259.4 518.0 L257.8 518.0 L256.2 516.7 L254.6 516.3 L253.1 515.5 L251.5 514.9 L250.3 514.4 L248.3 513.7 L246.7 512.7 L245.1 512.0 L243.5 511.8 L241.9 510.7 L240.3 509.8 L238.7 509.7 L237.6 509.1 L235.6 507.7 L234.0 506.8 L232.4 505.8 L230.8 505.3 L229.2 503.6 L227.6 503.8 L226.0 502.3 L224.9 501.7 L222.8 500.1 L221.3 498.7 L219.7 497.4 L218.1 496.8 L216.5 494.6 L214.3 493.2 L211.7 491.1 L210.1 489.7 L208.5 489.4 L206.9 486.7 L205.4 485.7 L203.7 484.8 L202.2 483.7 L200.6 482.5 L199.0 481.8 L197.4 479.8 L195.8 478.8 L194.2 478.3 L193.1 477.4 L191.0 475.8 L189.5 473.9 L187.9 471.6 L186.3 470.1 L184.7 468.6 L182.5 466.8 L179.9 463.0 L178.3 461.8 L176.7 460.0 L175.1 457.6 L173.6 456.2 L171.9 454.1 L170.4 452.0 L168.8 450.1 L167.2 448.5 L165.6 445.8 L164.0 443.9 L162.4 441.6 L161.4 440.3 L159.2 437.5 L157.7 434.0 L156.1 431.9 L154.5 430.4 L152.9 428.2 L150.8 424.4 L149.7 424.2 L148.1 422.6 L146.5 422.1 L144.9 422.1 L143.3 420.7 L141.8 419.6 L140.2 419.1 L138.6 418.3 L137.0 417.9 L135.4 416.4 L133.8 415.6 L132.2 415.2 L130.6 414.2 L129.6 413.8 L127.4 413.8 L125.9 413.5 L124.3 413.3 L122.7 413.9 L121.1 414.2 L119.5 413.8Z" fill="#2b2bff"/>
<path d="M119.5 75.0 L121.1 75.0 L122.2 72.5 L124.3 75.1 L125.4 76.0 L127.4 77.1 L129.0 76.4 L130.6 78.4 L131.7 79.2 L133.8 80.4 L134.9 81.4 L137.0 81.3 L138.6 80.9 L140.2 81.4 L141.8 80.8 L143.3 79.9 L144.4 79.9 L146.5 81.2 L148.6 84.5 L149.7 87.4 L151.3 90.6 L152.9 94.4 L153.9 95.1 L156.1 98.5 L157.1 100.0 L159.2 93.0 L160.8 91.4 L162.0 90.9 L164.5 94.5 L165.6 95.0 L167.7 97.2 L168.8 98.4 L171.3 105.1 L173.0 100.8 L175.1 104.1 L176.2 104.6 L178.3 106.1 L179.4 108.2 L182.5 103.2 L184.7 106.8 L185.7 109.9 L187.9 110.5 L188.9 111.0 L191.0 115.2 L192.6 116.4 L194.2 118.4 L195.8 114.8 L197.4 112.3 L199.0 110.6 L200.1 108.2 L202.7 115.2 L203.8 117.3 L205.4 120.3 L206.5 123.3 L208.5 121.6 L209.6 121.0 L211.7 128.3 L212.8 131.1 L214.9 132.9 L216.0 131.5 L218.1 134.4 L219.7 137.9 L221.1 141.1 L223.8 134.7 L225.5 138.1 L228.1 136.4 L229.2 133.0 L231.7 127.3 L234.4 132.2 L235.6 128.3 L236.7 128.4 L239.7 131.8 L242.9 141.7 L245.1 142.2 L246.7 143.8 L248.2 142.1 L250.3 144.9 L252.0 147.0 L253.1 147.5 L254.5 150.2 L257.1 146.4 L259.4 148.9 L260.9 149.1 L262.6 148.8 L265.1 148.5 L268.3 143.2 L271.5 148.1 L273.7 146.5 L275.7 147.6 L276.9 149.9 L278.5 151.5 L280.0 154.0 L281.7 154.0 L284.2 157.6 L286.3 153.4 L288.4 153.4 L289.6 150.2 L291.6 146.4 L292.8 145.6 L294.8 145.5 L296.0 144.3 L297.6 144.4 L299.0 143.8 L300.8 139.1 L302.2 138.5 L303.9 137.6 L305.5 138.0 L307.5 136.4 L308.7 135.5 L310.3 133.5 L311.9 131.4 L313.8 127.9 L315.1 128.1 L316.7 124.7 L319.1 123.7 L321.4 120.2 L323.0 115.1 L325.5 112.1 L327.8 107.9 L329.4 104.4 L330.8 103.6 L332.9 105.7 L334.1 103.8 L335.7 100.6 L337.3 95.8 L339.2 91.9 L340.5 90.5 L342.1 85.2 L343.7 82.4 L345.6 78.2 L346.9 77.4 L348.5 75.2 L349.8 75.0 L351.6 75.7 L353.2 77.1 L354.8 75.0 L356.2 76.1 L358.0 75.6 L359.6 73.7 L361.5 72.5 L362.8 74.2 L364.4 73.4 L365.7 73.3 L367.5 76.0 L369.9 78.2 L372.3 81.7 L374.2 83.5 L375.5 86.3 L377.1 88.1 L378.4 91.9 L380.3 94.3 L381.8 93.3 L383.4 95.7 L385.8 97.2 L388.2 103.1 L390.1 106.8 L391.4 109.7 L393.0 114.9 L394.3 118.4 L396.2 123.8 L397.7 126.6 L399.6 131.1 L400.9 131.9 L402.5 132.2 L404.1 135.6 L405.9 138.5 L407.3 140.8 L408.9 144.0 L410.2 147.0 L412.1 147.4 L413.6 149.4 L415.5 150.2 L416.8 150.0 L418.4 150.8 L420.0 151.8 L421.6 150.9 L422.9 151.9 L424.8 149.2 L426.4 149.0 L428.2 144.9 L429.5 144.2 L431.1 140.7 L433.5 139.2 L436.7 137.5 L439.1 138.9 L440.9 140.0 L442.3 139.2 L443.9 138.2 L445.1 136.0 L447.0 135.3 L448.6 134.0 L450.2 133.2 L451.5 133.2 L453.4 133.4 L455.0 132.8 L456.8 132.2 L458.2 130.7 L459.8 129.8 L461.0 129.0 L462.9 124.2 L464.2 121.6 L466.1 120.7 L468.4 118.4 L470.9 115.4 L472.7 114.2 L474.1 116.4 L475.8 118.4 L477.2 121.5 L479.0 123.7 L480.4 124.5 L482.0 123.8 L483.2 124.8 L485.2 124.9 L487.5 122.7 L490.0 116.7 L491.6 114.1 L492.8 111.0 L494.7 112.3 L497.0 115.2 L499.5 116.8 L501.1 120.3 L502.3 121.6 L504.3 127.1 L505.5 130.1 L507.5 131.0 L509.7 132.2 L512.2 130.9 L513.8 129.2 L515.0 129.0 L517.0 126.8 L518.6 126.0 L520.3 124.8 L521.8 127.7 L523.5 127.9 L524.9 128.9 L526.5 128.1 L528.8 129.0 L531.3 131.0 L532.9 131.1 L534.1 132.2 L536.1 132.2 L537.7 133.6 L539.4 133.2 L540.8 130.8 L542.5 129.0 L544.0 128.8 L545.6 130.6 L546.8 132.2 L548.8 130.9 L549.9 130.1 L552.0 131.9 L554.2 133.7 L556.7 133.1 L558.4 131.1 L559.9 132.1 L561.5 134.9 L562.6 135.4 L564.7 135.7 L565.8 135.4 L567.9 136.8 L569.6 138.1 L571.1 136.3 L572.2 133.7 L574.7 136.4 L575.8 134.3 L577.4 129.6 L578.5 127.9 L580.6 128.3 L582.8 126.9 L585.4 122.3 L587.0 121.1 L588.1 119.5 L590.1 119.3 L591.7 119.5 L593.4 119.0 L594.9 118.6 L596.5 119.3 L598.6 119.5 L599.7 119.7 L601.3 121.2 L602.9 120.2 L603.9 121.2 L606.0 122.3 L607.1 122.7 L609.2 119.5 L610.8 116.4 L612.4 115.2 L614.0 118.0 L615.6 116.4 L616.6 116.9 L618.8 115.3 L619.8 116.3 L621.9 120.3 L624.1 122.0 L625.1 120.7 L627.2 120.5 L628.3 122.6 L629.8 124.8 L631.5 122.7 L633.0 119.5 L634.7 120.0 L635.7 121.2 L637.8 119.9 L639.4 119.1 L640.6 119.0 L643.1 123.3 L644.2 122.4 L646.3 121.0 L647.4 120.3 L648.4 122.2 L650.5 120.5 L652.6 123.1 L653.7 122.0 L655.8 122.7 L656.9 120.7 L658.6 118.0 L661.0 120.5 L663.3 123.5 L664.3 123.7 L666.5 122.4 L668.0 121.9 L670.6 118.4 L672.8 120.8 L674.4 121.1 L675.9 122.7 L677.6 123.6 L679.2 123.0 L681.2 125.8 L682.4 124.4 L684.4 124.1 L685.5 124.6 L687.1 127.5 L688.6 129.0 L690.3 127.8 L691.8 125.8 L693.5 128.1 L695.1 130.7 L696.1 132.8 L698.3 130.9 L699.8 131.5 L701.4 131.3 L703.5 130.5 L704.6 131.5 L706.2 131.5 L707.8 134.7 L709.8 134.3 L711.9 132.2 L714.2 134.8 L715.7 134.9 L717.2 136.0 L718.9 136.2 L721.5 137.5 L724.6 132.6 L726.9 132.2 L728.5 132.5 L730.1 132.3 L731.6 132.7 L733.1 132.2 L735.2 134.3 L736.4 134.0 L738.0 133.3 L739.5 131.1 L741.2 132.6 L742.6 132.2 L744.8 129.4 L746.0 130.6 L747.9 132.8 L749.1 132.9 L750.7 132.1 L752.2 132.2 L753.9 131.1 L755.4 131.1 L757.1 138.9 L758.1 141.1 L760.6 136.4 L761.9 135.6 L763.8 135.4 L765.0 137.8 L766.6 136.9 L768.1 138.1 L769.8 135.5 L772.3 131.1 L774.6 129.7 L776.2 127.3 L777.6 125.8 L779.3 123.5 L781.8 119.5 L784.1 114.1 L786.1 109.9 L787.3 107.7 L788.9 105.6 L790.5 102.8 L792.4 100.4 L793.7 102.7 L795.2 102.4 L796.6 103.6 L798.4 101.7 L800.0 95.2 L801.6 94.5 L803.0 91.9 L804.8 91.5 L807.2 89.8 L809.6 85.5 L811.5 82.4 L812.7 82.0 L814.6 79.2 L815.9 80.6 L817.8 81.4 L819.1 79.0 L820.4 77.1 L823.1 81.4 L826.3 82.4 L828.6 79.3 L830.5 76.1 L831.8 77.7 L833.4 74.6" fill="none" stroke="#2828d2" stroke-width="0.95" stroke-dasharray="3 0.8"/>
<path d="M119.5 165.0 L121.1 165.3 L122.7 165.6 L124.3 165.3 L125.9 165.9 L127.5 166.0 L129.0 165.4 L130.6 166.2 L132.2 167.9 L133.8 167.2 L135.4 167.1 L137.0 167.5 L138.6 168.1 L140.2 167.1 L141.8 168.5 L143.3 170.5 L144.9 171.0 L146.5 171.4 L148.1 173.4 L149.7 176.1 L151.3 175.5 L152.9 178.8 L154.5 181.1 L156.0 184.0 L157.7 186.1 L159.2 187.3 L161.4 190.4 L162.4 192.4 L164.0 195.3 L165.6 198.9 L167.2 200.1 L168.8 203.7 L170.4 204.0 L172.0 205.2 L173.6 207.0 L175.1 209.7 L176.7 210.7 L178.3 212.7 L179.9 215.1 L182.5 217.5 L184.7 220.8 L186.3 223.9 L187.9 224.3 L189.5 227.9 L191.0 229.6 L192.6 232.4 L194.2 234.3 L195.8 238.2 L197.4 240.2 L199.0 241.3 L200.6 244.4 L202.2 245.3 L203.8 247.0 L205.4 248.2 L206.9 250.3 L208.0 250.8 L210.1 251.6 L211.7 254.2 L213.3 255.2 L214.9 257.2 L216.5 258.5 L218.5 260.3 L219.7 261.8 L221.3 262.5 L222.8 265.7 L224.9 266.6 L226.0 268.6 L227.6 268.0 L229.2 269.1 L230.8 270.2 L232.4 271.7 L233.4 271.5 L235.6 271.6 L237.6 269.4 L238.7 269.4 L240.3 270.9 L241.9 271.7 L243.5 272.7 L246.1 275.1 L248.3 275.7 L249.9 278.0 L251.5 278.2 L253.1 280.9 L254.5 281.0 L256.2 281.9 L257.8 281.1 L259.4 281.5 L261.0 282.1 L262.6 283.7 L264.1 283.2 L265.8 281.3 L267.4 279.7 L269.0 279.2 L271.5 277.2 L273.7 276.3 L275.3 274.9 L276.9 275.5 L278.5 273.9 L280.0 273.0 L281.7 271.4 L283.3 268.8 L284.9 267.5 L286.4 265.6 L288.4 263.5 L289.6 261.3 L291.2 261.8 L292.8 259.5 L294.8 259.2 L296.0 258.0 L297.6 255.5 L299.0 255.0 L300.8 253.0 L302.3 249.1 L303.9 246.6 L305.4 243.4 L307.1 241.8 L308.7 238.5 L310.6 237.0 L311.9 234.8 L313.5 234.9 L315.1 234.6 L317.0 232.8 L318.2 230.5 L319.8 228.0 L321.4 225.1 L323.0 220.7 L324.4 219.0 L326.2 217.7 L327.8 217.4 L329.4 214.5 L330.8 213.7 L332.6 211.9 L334.1 212.4 L335.7 211.8 L337.1 211.6 L338.9 210.1 L340.5 207.8 L342.1 206.9 L343.7 204.0 L345.6 203.5 L346.9 204.3 L348.5 205.2 L349.8 204.6 L351.6 204.6 L354.1 202.7 L356.4 203.1 L358.0 205.1 L360.4 206.3 L362.8 205.1 L364.4 207.4 L365.9 207.6 L367.5 207.5 L368.9 208.4 L370.7 209.4 L372.3 209.9 L373.9 211.0 L375.2 211.0 L377.1 211.3 L378.7 211.5 L380.5 211.6 L381.8 211.9 L383.4 214.1 L385.0 216.2 L386.9 218.5 L388.2 219.9 L389.8 221.2 L391.4 223.6 L393.0 223.6 L394.3 225.4 L396.2 227.3 L397.7 229.4 L399.3 230.9 L400.9 233.1 L402.8 234.9 L404.1 236.2 L405.7 239.4 L407.3 240.4 L408.9 243.2 L411.2 245.5 L413.6 247.9 L415.2 250.4 L416.8 250.2 L418.4 252.9 L419.7 253.9 L421.6 255.5 L423.2 257.5 L424.8 259.7 L426.4 259.9 L428.2 262.4 L429.5 263.0 L431.1 264.7 L432.7 267.1 L434.3 267.4 L436.7 270.9 L439.1 272.5 L440.7 272.6 L442.3 273.7 L443.9 275.2 L445.1 276.2 L447.0 277.6 L448.6 278.0 L450.2 279.1 L451.8 280.4 L453.6 281.5 L455.0 282.2 L456.6 281.7 L458.2 284.1 L459.8 285.4 L462.1 286.8 L464.5 286.6 L466.1 286.6 L468.4 284.6 L470.9 286.0 L472.5 286.3 L473.7 286.8 L475.7 289.1 L477.2 292.0 L479.0 294.5 L480.4 296.2 L482.0 297.8 L484.3 299.0 L486.8 296.7 L488.4 296.2 L490.0 295.4 L491.6 294.8 L493.8 292.1 L496.3 292.6 L497.9 292.3 L499.5 292.4 L501.1 292.8 L502.7 292.9 L504.4 293.5 L505.9 293.5 L507.5 293.0 L509.0 292.3 L510.6 292.0 L512.2 290.4 L513.8 290.4 L515.4 289.3 L517.0 289.0 L519.2 288.2 L521.8 289.7 L523.4 289.5 L524.9 288.8 L526.5 290.3 L528.1 290.5 L529.7 290.5 L531.9 292.1 L534.5 290.6 L536.1 291.0 L537.7 290.8 L539.3 288.8 L540.8 289.1 L542.5 287.8 L544.0 288.4 L545.6 286.9 L547.2 287.4 L548.8 287.3 L550.4 287.3 L552.0 286.1 L553.6 286.7 L555.2 286.8 L556.7 287.0 L558.3 286.7 L559.9 286.5 L561.5 284.8 L563.1 285.6 L564.7 284.5 L566.3 282.8 L567.9 283.6 L570.1 282.5 L572.6 281.7 L574.2 281.8 L576.4 281.0 L577.4 279.9 L579.0 279.1 L580.6 276.9 L582.8 274.5 L585.4 275.4 L587.0 276.2 L588.5 276.2 L590.1 275.2 L591.7 274.2 L593.3 274.6 L595.5 273.0 L598.1 273.0 L599.7 273.0 L601.8 273.6 L602.9 272.8 L604.4 271.6 L606.0 271.5 L608.2 270.9 L609.2 271.2 L610.8 268.2 L612.4 267.4 L614.5 265.6 L615.6 265.6 L617.2 267.0 L618.8 269.3 L620.9 269.8 L621.9 269.8 L623.5 268.1 L625.1 267.7 L627.2 266.6 L628.3 266.5 L629.9 267.1 L631.5 267.7 L633.1 268.3 L634.7 269.6 L635.7 269.8 L637.8 268.3 L639.4 266.8 L641.0 265.0 L642.1 264.1 L644.2 264.5 L645.8 266.2 L647.4 266.6 L648.4 267.7 L650.6 268.8 L652.1 269.1 L653.7 269.2 L655.3 268.8 L656.9 267.2 L659.0 266.3 L660.1 264.9 L661.7 266.0 L663.3 265.6 L664.9 263.5 L666.5 263.9 L667.5 263.5 L669.6 263.1 L671.2 260.9 L672.8 261.8 L674.4 259.8 L675.9 259.2 L677.6 258.6 L679.2 260.0 L680.8 259.4 L682.4 258.8 L684.4 259.2 L685.5 259.3 L687.1 257.0 L688.7 258.7 L690.3 256.6 L691.9 256.6 L692.9 256.1 L695.1 255.9 L696.7 256.4 L698.3 256.6 L699.8 255.6 L701.4 256.6 L703.0 255.9 L704.6 255.7 L706.2 256.0 L707.7 256.1 L709.4 254.6 L711.0 254.0 L712.6 254.2 L714.2 252.7 L716.2 251.8 L717.3 252.0 L718.9 251.0 L720.5 249.5 L722.1 248.3 L723.7 248.4 L725.3 248.4 L726.8 247.6 L728.5 246.3 L730.1 244.6 L731.6 244.5 L733.2 241.7 L735.2 241.2 L736.4 239.5 L738.0 239.2 L739.6 239.3 L741.2 237.0 L743.7 234.9 L746.0 232.6 L747.5 232.4 L749.1 231.2 L750.7 230.2 L752.2 228.5 L753.9 227.2 L755.5 225.9 L757.1 225.5 L758.7 224.7 L760.6 223.2 L761.9 223.5 L763.4 223.1 L765.0 220.6 L766.6 219.9 L769.1 219.0 L771.4 216.1 L773.0 214.0 L774.6 212.5 L776.2 210.5 L777.6 208.4 L779.3 206.2 L780.9 204.7 L782.5 201.6 L784.1 198.9 L786.1 196.8 L787.3 194.8 L788.9 193.7 L790.5 192.3 L792.1 190.4 L794.5 189.4 L796.8 184.9 L798.4 181.2 L800.0 177.5 L801.6 173.8 L803.0 171.4 L804.8 168.9 L806.4 167.9 L808.0 168.1 L809.6 164.3 L811.5 163.9 L812.7 163.1 L814.3 162.2 L815.9 160.7 L817.5 159.2 L819.9 157.6 L822.3 156.9 L823.9 155.0 L826.3 154.4 L828.6 155.1 L830.2 155.9 L831.8 154.6 L833.4 155.5" fill="none" stroke="#0e0e9a" stroke-width="1.1" stroke-dasharray="4 1.3"/>
<path d="M119.5 215.8 L121.1 215.3 L122.7 215.6 L124.3 215.9 L125.9 215.9 L127.5 215.2 L129.0 215.5 L130.6 214.9 L132.2 214.7 L133.8 215.3 L136.0 215.2 L138.6 217.4 L140.2 218.5 L141.8 219.0 L143.3 220.6 L144.9 221.7 L146.5 223.1 L148.1 223.2 L149.7 224.9 L150.8 225.4 L152.9 227.4 L154.5 229.6 L156.1 231.7 L157.7 234.3 L159.2 237.0 L161.4 238.1 L162.4 240.0 L164.0 242.9 L165.6 246.0 L167.2 247.7 L168.8 251.5 L169.8 252.9 L172.0 254.7 L173.6 257.7 L175.1 259.3 L176.7 260.6 L178.3 261.7 L179.9 264.6 L182.5 266.6 L184.7 269.4 L186.3 271.2 L187.9 273.3 L189.5 274.2 L191.0 277.1 L193.1 279.4 L194.2 281.0 L195.8 282.2 L197.4 283.7 L199.0 284.8 L200.6 287.1 L202.2 288.5 L203.7 289.9 L205.4 292.0 L206.9 293.7 L208.5 296.3 L210.1 298.5 L212.2 300.5 L213.3 302.2 L214.9 304.6 L216.5 306.9 L218.1 309.2 L219.6 310.5 L221.3 311.6 L222.8 312.4 L224.4 313.3 L226.0 314.5 L227.6 315.7 L229.1 316.4 L230.8 317.7 L232.4 317.8 L234.0 318.9 L235.6 319.1 L237.6 320.6 L238.7 321.7 L240.3 321.7 L241.9 322.8 L243.5 323.1 L245.1 324.0 L246.7 324.6 L248.3 326.4 L250.3 326.6 L251.5 327.1 L253.1 327.3 L254.6 327.4 L256.2 328.0 L257.8 329.0 L259.4 330.0 L261.0 329.1 L262.6 329.8 L264.1 330.6 L265.8 330.2 L267.4 329.6 L269.0 328.8 L270.5 329.2 L272.1 329.2 L273.7 327.8 L275.7 328.1 L276.9 327.8 L278.5 327.6 L280.1 327.1 L281.7 325.9 L283.3 326.6 L284.9 325.2 L286.4 324.1 L288.4 323.8 L289.6 323.5 L291.2 321.5 L292.7 321.1 L294.4 321.5 L296.0 320.5 L297.6 321.4 L299.0 321.0 L300.8 319.1 L302.3 318.4 L303.9 316.8 L305.5 315.2 L307.5 313.2 L308.7 312.9 L310.3 312.9 L311.9 311.1 L313.5 311.6 L315.1 311.2 L316.7 310.8 L318.1 310.1 L319.8 308.0 L321.4 307.0 L323.0 303.1 L325.5 299.5 L327.8 298.6 L330.0 297.0 L333.0 294.1 L334.1 293.8 L335.7 294.0 L338.0 292.6 L340.5 291.2 L342.0 291.8 L343.7 292.3 L345.3 290.9 L347.0 290.9 L348.5 289.7 L349.5 290.6 L352.5 286.2 L354.8 286.2 L356.4 286.9 L358.5 287.4 L359.6 286.8 L361.0 285.9 L362.5 284.4 L364.4 284.3 L365.9 284.6 L367.5 284.2 L370.0 285.9 L372.3 285.7 L374.0 285.6 L375.5 287.1 L376.5 288.2 L378.7 286.7 L380.0 287.4 L381.8 287.8 L383.7 287.8 L385.0 289.3 L386.6 289.8 L388.2 290.3 L389.8 291.8 L392.2 294.2 L394.6 297.3 L396.2 297.8 L397.7 299.4 L399.3 300.9 L400.7 302.6 L402.5 304.5 L404.1 305.4 L405.7 306.7 L407.3 307.8 L409.1 310.1 L410.5 311.4 L412.1 313.5 L413.6 314.5 L415.2 316.6 L417.6 318.5 L420.0 319.2 L421.6 319.6 L423.2 320.0 L424.8 320.3 L426.1 320.6 L428.0 322.4 L429.5 323.3 L431.1 323.9 L432.7 325.3 L434.3 326.4 L436.7 328.1 L439.1 329.3 L440.7 329.8 L442.3 330.5 L443.9 330.3 L445.4 331.8 L447.2 332.3 L448.6 333.9 L450.2 333.9 L451.8 336.4 L453.4 337.0 L455.7 338.6 L458.2 340.2 L459.8 340.5 L462.1 342.9 L464.5 343.0 L466.1 341.8 L468.4 341.8 L470.9 343.6 L472.5 345.4 L473.7 346.1 L475.7 348.7 L477.2 351.3 L479.0 354.5 L480.4 355.8 L482.0 358.3 L484.3 361.3 L486.8 361.6 L488.5 361.3 L490.0 360.5 L491.6 359.4 L493.8 357.7 L496.3 358.2 L497.9 358.9 L499.5 358.9 L501.1 360.6 L502.7 360.2 L504.3 359.7 L505.5 360.9 L507.5 360.1 L509.0 361.0 L510.6 359.4 L512.2 359.5 L513.8 359.6 L515.4 358.6 L517.1 358.8 L518.6 359.2 L520.2 359.3 L521.8 358.1 L523.4 358.8 L524.9 357.8 L526.5 357.6 L528.1 358.1 L529.7 358.0 L531.9 357.7 L534.5 356.7 L536.1 356.8 L537.7 355.3 L539.3 355.1 L540.8 354.5 L542.4 354.9 L544.6 353.9 L545.6 354.7 L547.2 355.2 L548.8 355.0 L550.4 356.3 L552.0 357.1 L553.1 357.3 L555.2 355.7 L556.7 355.4 L558.3 355.4 L559.9 354.7 L561.5 353.8 L563.7 352.8 L566.3 351.9 L567.9 351.1 L569.5 350.3 L571.1 349.5 L572.6 348.4 L574.2 348.0 L576.4 347.1 L577.4 346.3 L579.0 346.5 L580.6 344.5 L582.2 343.3 L583.8 342.3 L585.4 342.8 L587.0 343.5 L589.1 344.4 L590.1 344.2 L591.7 344.4 L593.3 343.9 L594.9 344.2 L596.5 343.3 L598.1 343.6 L599.7 343.3 L601.3 343.0 L602.9 341.4 L604.4 341.3 L606.0 340.6 L607.6 339.6 L609.2 338.9 L610.3 338.6 L612.4 336.4 L614.0 336.7 L615.6 334.8 L617.7 333.8 L618.8 333.5 L620.3 334.7 L621.9 333.9 L623.5 335.6 L625.1 335.5 L626.7 335.6 L628.3 335.6 L629.9 335.2 L631.5 334.6 L633.1 334.2 L634.7 335.6 L636.2 334.7 L637.8 334.8 L639.4 334.4 L641.0 335.1 L642.6 333.9 L644.2 333.8 L645.8 333.6 L647.4 333.5 L648.4 333.4 L650.6 332.3 L652.1 332.0 L653.7 332.4 L655.3 331.7 L656.9 329.5 L659.0 330.2 L660.1 328.7 L661.7 328.8 L663.3 327.7 L664.9 326.6 L666.5 326.3 L668.0 324.1 L669.6 324.5 L671.7 322.8 L672.8 322.4 L674.4 321.9 L676.0 321.1 L677.6 320.7 L679.2 319.6 L680.8 318.8 L682.4 318.7 L684.4 317.5 L685.5 317.1 L687.1 315.8 L688.7 316.4 L690.3 315.7 L691.9 315.1 L693.5 313.9 L695.0 313.2 L696.7 312.5 L698.3 311.4 L699.8 310.4 L701.4 310.0 L703.0 309.3 L704.6 308.1 L706.2 308.5 L707.7 306.9 L709.4 305.6 L711.0 305.4 L712.6 305.0 L714.2 305.3 L715.7 304.1 L717.3 303.5 L718.9 302.7 L720.4 302.6 L722.1 300.6 L723.7 298.8 L725.3 298.2 L726.9 296.5 L728.5 295.1 L731.0 292.1 L733.2 289.2 L734.8 288.8 L737.4 284.6 L739.6 282.4 L741.2 280.7 L742.8 280.2 L744.4 279.1 L746.0 278.1 L747.9 276.2 L749.1 274.6 L750.7 273.9 L752.3 273.0 L753.9 270.4 L755.5 269.0 L757.1 267.1 L758.5 266.6 L760.3 265.0 L761.9 263.7 L763.4 262.1 L765.0 260.5 L766.6 259.2 L769.1 256.1 L771.4 252.7 L773.0 250.7 L774.6 247.5 L776.2 245.2 L777.6 243.4 L779.3 240.7 L780.9 237.6 L782.5 235.7 L784.1 233.4 L786.1 229.6 L787.3 228.4 L788.9 226.1 L790.5 224.3 L792.1 223.5 L794.5 220.1 L796.6 219.0 L798.4 214.1 L800.0 210.6 L801.6 206.5 L803.0 203.1 L804.8 201.8 L806.4 201.1 L808.0 199.2 L809.6 197.6 L811.5 196.8 L812.7 196.4 L814.3 194.6 L815.9 193.5 L817.5 191.8 L819.9 189.8 L822.3 189.2 L823.9 188.8 L826.3 187.2 L828.6 188.2 L830.2 187.7 L831.8 187.9 L833.4 188.3" fill="none" stroke="#05056e" stroke-width="1.2" stroke-dasharray="5.5 2.4"/>
<path d="M119.5 287.8 L121.1 288.0 L122.7 287.9 L124.3 288.0 L125.9 287.5 L127.4 286.9 L129.6 287.8 L130.6 288.4 L132.2 289.2 L133.8 289.8 L135.4 290.8 L137.0 291.1 L138.6 291.3 L140.2 292.1 L141.8 293.3 L143.3 293.6 L144.9 295.0 L146.5 295.4 L148.1 296.2 L149.7 296.9 L150.8 297.4 L152.9 300.7 L154.5 302.6 L156.1 305.8 L157.7 308.5 L159.2 310.3 L160.8 314.1 L162.4 317.1 L163.5 318.5 L165.6 322.3 L167.2 323.8 L168.8 325.6 L170.4 327.4 L171.9 330.2 L173.6 332.8 L175.1 333.3 L176.7 336.0 L178.3 336.5 L180.4 339.7 L181.5 341.2 L183.1 343.7 L184.7 345.7 L186.3 347.8 L187.9 349.7 L188.9 351.4 L191.0 352.7 L192.6 354.8 L194.2 355.8 L195.8 356.8 L197.4 358.2 L199.5 359.8 L200.6 360.3 L202.2 362.2 L203.8 363.5 L205.4 363.9 L206.9 365.5 L208.5 367.1 L210.1 367.6 L212.2 369.4 L213.3 371.1 L214.9 372.2 L216.5 372.8 L218.1 374.7 L219.7 376.2 L221.3 376.4 L222.8 378.5 L224.9 379.9 L226.0 380.6 L227.6 381.6 L229.2 383.1 L230.8 383.7 L232.4 384.4 L234.0 385.4 L235.6 387.0 L237.6 388.4 L238.7 389.1 L240.3 389.5 L241.9 390.1 L243.5 390.9 L245.1 392.0 L246.7 392.4 L248.3 392.6 L250.3 393.7 L251.5 393.9 L253.1 395.0 L254.6 394.8 L256.2 395.3 L257.8 395.9 L259.4 396.0 L261.0 397.3 L263.0 397.5 L264.2 396.8 L265.8 398.5 L267.4 398.0 L269.0 397.9 L270.5 398.8 L272.1 398.3 L273.7 399.4 L275.7 399.5 L276.9 399.9 L278.5 399.6 L280.1 399.9 L281.7 400.6 L283.3 400.1 L284.9 400.6 L286.4 400.9 L288.0 401.6 L289.6 400.9 L291.2 401.3 L292.8 401.9 L294.4 400.6 L296.0 401.7 L297.6 401.3 L299.0 402.2 L300.8 401.6 L302.3 403.2 L303.9 402.6 L305.5 403.2 L307.1 402.6 L308.7 403.0 L310.3 402.7 L311.9 402.7 L313.5 403.0 L315.9 403.2 L318.2 403.1 L319.8 403.5 L321.4 402.8 L323.0 402.9 L324.6 402.5 L326.2 402.6 L327.8 401.9 L329.4 402.7 L330.8 402.2 L332.6 402.1 L334.1 402.4 L335.7 402.3 L337.3 402.9 L338.9 402.8 L340.5 402.7 L342.1 402.8 L343.7 402.9 L345.3 403.2 L346.9 403.2 L348.5 403.6 L350.0 403.8 L351.9 403.2 L353.2 403.2 L354.8 402.2 L356.4 403.1 L358.0 403.0 L359.6 401.8 L361.2 401.5 L362.8 400.6 L364.4 401.4 L366.8 400.7 L369.1 400.7 L370.7 402.1 L372.3 400.6 L373.9 401.9 L375.5 402.4 L377.1 402.2 L379.5 402.8 L381.8 402.6 L383.4 403.1 L385.0 402.9 L386.6 403.1 L388.2 403.3 L389.8 403.2 L391.4 403.4 L393.0 403.9 L394.3 403.7 L396.2 403.8 L397.7 404.2 L399.3 404.0 L400.9 404.8 L402.5 404.1 L404.1 405.2 L405.7 403.8 L407.3 404.8 L409.1 405.4 L410.5 404.7 L412.1 405.7 L413.6 405.3 L415.2 404.6 L416.8 404.8 L418.4 405.5 L419.7 404.9 L421.6 404.4 L423.2 404.3 L424.8 403.0 L426.4 402.6 L428.2 402.8 L429.5 403.8 L431.1 405.3 L432.7 405.1 L434.3 406.4 L436.7 407.5 L439.1 407.6 L440.7 408.8 L442.3 408.4 L443.9 408.7 L445.4 408.5 L447.2 409.6 L448.6 410.1 L450.2 411.2 L451.8 412.4 L453.4 412.2 L455.7 413.8 L458.2 415.4 L459.8 415.7 L462.1 417.0 L464.5 416.1 L466.1 415.3 L468.4 414.9 L470.9 415.7 L472.5 416.9 L473.7 418.1 L475.7 421.5 L477.2 422.6 L479.0 425.5 L480.4 426.2 L482.0 427.9 L483.6 427.6 L485.2 429.7 L486.4 430.3 L488.4 428.8 L490.0 428.0 L491.6 427.2 L492.8 426.1 L494.7 426.1 L496.3 426.1 L497.9 426.5 L499.5 426.5 L501.1 426.0 L502.7 426.3 L504.3 425.9 L506.5 426.5 L509.0 426.8 L510.6 425.7 L512.2 426.2 L513.8 426.7 L515.4 426.2 L517.0 425.7 L518.6 425.4 L520.2 425.3 L521.4 425.5 L523.4 425.8 L524.9 425.6 L526.5 425.5 L528.1 426.5 L529.7 425.2 L531.3 425.3 L532.9 425.3 L534.5 425.6 L536.1 425.6 L538.3 425.5 L540.8 425.2 L542.4 425.4 L544.0 425.2 L545.6 424.7 L547.2 423.7 L548.8 424.9 L551.0 424.4 L553.6 423.4 L555.2 423.1 L556.7 422.9 L558.3 422.0 L559.9 421.8 L561.5 421.8 L563.7 421.2 L566.3 420.6 L567.9 420.6 L569.5 419.9 L571.1 419.9 L572.6 419.3 L574.2 419.3 L576.4 419.1 L577.4 418.9 L579.0 418.2 L580.6 417.3 L582.2 417.3 L583.8 417.0 L585.4 416.9 L587.0 416.0 L588.5 415.4 L590.1 414.6 L591.7 415.4 L593.4 414.2 L594.9 413.2 L596.5 412.5 L598.1 412.3 L599.7 411.0 L601.3 411.6 L602.9 410.6 L604.4 410.1 L606.0 408.9 L608.2 408.5 L609.2 408.0 L610.8 408.2 L612.4 407.8 L614.0 408.2 L615.6 407.1 L617.2 405.5 L618.8 405.9 L620.3 405.4 L621.9 405.6 L623.0 404.9 L625.1 404.4 L626.7 404.3 L628.3 403.6 L629.9 403.7 L631.5 403.7 L633.1 402.5 L634.7 401.6 L635.7 402.2 L637.8 400.5 L639.4 400.6 L641.0 399.0 L642.6 398.4 L644.2 397.5 L645.8 396.5 L647.4 396.6 L648.4 395.8 L650.6 394.9 L652.1 394.0 L653.7 393.1 L655.3 392.6 L656.9 391.8 L659.0 391.0 L660.1 390.7 L661.7 390.3 L663.3 388.2 L664.9 387.7 L666.5 387.5 L668.0 386.9 L669.6 385.5 L671.7 385.2 L672.8 384.4 L674.4 383.7 L676.0 382.9 L677.6 382.1 L679.2 381.4 L680.8 381.0 L682.4 380.2 L684.4 378.9 L685.5 378.5 L687.1 377.4 L688.7 376.1 L690.3 375.2 L691.9 374.8 L693.5 373.6 L695.1 373.0 L697.1 371.5 L698.3 370.9 L699.8 369.9 L701.4 369.1 L703.0 367.4 L704.6 367.0 L706.2 365.9 L707.8 365.6 L709.8 364.1 L711.0 363.1 L712.6 362.6 L714.2 361.4 L715.7 360.8 L717.3 360.0 L718.9 358.7 L720.5 357.9 L722.5 356.7 L723.7 355.4 L725.3 353.8 L726.9 351.6 L728.5 350.0 L731.0 347.1 L733.2 344.7 L734.8 342.9 L736.4 341.7 L738.0 340.2 L739.5 338.6 L741.2 336.7 L742.8 336.3 L744.4 333.9 L746.0 333.1 L747.5 331.5 L750.1 329.1 L752.3 325.7 L753.9 324.5 L755.5 321.9 L757.1 320.6 L758.7 319.0 L760.6 316.4 L761.9 315.4 L763.4 312.8 L765.0 309.7 L766.6 308.0 L769.1 304.8 L771.4 301.9 L773.0 299.0 L774.6 297.3 L776.2 293.9 L777.8 291.6 L779.7 288.9 L780.9 286.4 L782.5 284.2 L784.1 282.3 L785.7 278.9 L787.3 277.0 L788.9 274.3 L790.3 271.9 L792.1 269.3 L793.7 266.4 L795.2 263.9 L796.8 262.2 L798.8 258.2 L800.0 256.2 L801.6 255.2 L803.2 253.6 L805.1 250.8 L806.4 250.3 L808.0 250.0 L809.6 247.3 L811.1 247.6 L813.6 246.5 L815.9 244.3 L817.5 243.4 L819.1 242.4 L820.7 241.4 L822.1 240.2 L823.9 239.1 L825.5 239.1 L827.0 237.5 L828.4 237.6 L830.2 238.5 L831.8 238.5 L833.4 239.1" fill="none" stroke="#000050" stroke-width="1.65" stroke-dasharray="7.5 3"/>
<path d="M119.5 496.4 L121.1 495.8 L122.7 494.9 L124.3 495.0 L125.9 495.0 L127.5 494.3 L129.0 494.6 L130.6 495.2 L132.2 495.7 L133.8 495.7 L135.4 495.6 L137.0 496.5 L138.6 497.3 L140.2 497.5 L141.8 497.9 L143.3 498.6 L144.9 499.4 L146.5 500.5 L148.1 501.4 L149.7 502.2 L150.8 502.8 L152.9 504.3 L154.5 506.5 L156.1 507.8 L157.1 509.1 L159.2 512.3 L161.4 516.5 L162.4 516.5 L164.0 518.1 L165.6 519.6 L167.2 521.2 L168.8 522.6 L170.4 523.8 L171.9 525.0 L173.6 527.4 L175.1 528.9 L176.7 532.0 L178.3 534.2 L180.4 536.7 L181.5 537.6 L183.1 538.1 L184.7 539.2 L186.3 540.0 L187.9 540.5 L189.5 541.9 L191.0 543.0 L192.6 543.0 L194.2 543.5 L195.8 545.2 L197.4 545.9 L199.0 546.7 L200.6 546.8 L202.2 547.7 L203.7 548.3 L205.4 550.0 L206.9 550.9 L208.5 551.6 L210.1 554.9 L212.2 555.7 L213.3 557.8 L214.9 560.0 L216.5 561.6 L218.1 563.4 L219.7 566.0 L220.7 567.4 L222.8 568.0 L224.4 567.7 L226.0 568.5 L227.6 569.3 L229.2 570.1 L230.8 570.1 L232.4 570.1 L233.4 570.5 L235.6 570.6 L237.2 572.7 L238.7 572.4 L240.3 573.2 L241.9 573.4 L243.5 573.3 L246.1 574.8 L248.3 576.6 L249.9 576.6 L251.5 577.5 L253.1 577.2 L254.6 578.2 L256.7 579.0 L257.8 579.9 L259.4 579.6 L261.0 579.9 L262.6 580.2 L264.2 580.5 L265.8 581.9 L267.4 582.0 L269.0 581.7 L271.5 583.2 L273.7 584.6 L275.3 585.1 L276.9 585.5 L278.5 584.7 L280.1 586.2 L281.7 587.2 L284.2 587.5 L286.4 587.7 L288.0 588.3 L289.6 589.0 L291.2 588.7 L292.8 590.2 L294.4 591.0 L296.0 591.3 L297.6 592.1 L299.0 591.9 L300.8 592.4 L302.3 592.8 L303.9 593.2 L305.5 593.4 L307.1 593.7 L309.6 594.9 L311.9 594.8 L313.5 595.3 L315.1 595.3 L316.7 595.8 L318.2 596.0 L319.8 596.5 L321.4 596.1 L323.0 595.6 L324.6 596.3 L326.5 597.0 L327.8 598.0 L329.4 597.7 L331.0 597.4 L332.6 597.8 L334.1 598.0 L335.7 598.1 L337.3 598.6 L338.9 599.1 L341.4 599.1 L343.7 600.1 L345.3 599.7 L346.9 600.1 L348.5 600.4 L350.0 600.8 L351.9 601.2 L353.2 601.6 L354.8 600.7 L356.4 601.9 L358.0 601.1 L359.6 601.2 L361.2 600.2 L362.8 600.4 L364.4 600.2 L365.9 600.4 L367.5 599.4 L368.9 600.2 L370.7 600.9 L372.3 600.2 L373.9 601.6 L375.5 602.2 L377.1 602.1 L379.5 602.7 L381.8 602.9 L383.4 603.0 L385.0 603.2 L386.6 603.5 L388.2 604.0 L389.8 604.0 L391.4 604.6 L393.0 604.1 L394.6 604.0 L396.2 604.2 L397.7 604.0 L399.3 604.5 L400.7 604.8 L402.5 604.5 L404.1 605.5 L405.7 604.8 L407.3 605.3 L408.9 603.6 L410.5 604.5 L412.1 604.8 L413.6 604.4 L415.2 603.9 L417.6 604.0 L420.0 603.9 L421.6 603.7 L423.2 603.5 L424.8 603.4 L426.4 603.6 L428.0 603.1 L430.3 602.7 L432.7 602.8 L434.3 602.6 L435.9 602.7 L437.5 602.1 L439.1 602.6 L440.7 602.1 L442.3 602.6 L443.9 601.8 L445.4 602.0 L447.2 601.9 L448.6 601.7 L450.2 601.1 L451.8 601.8 L453.4 601.3 L455.0 600.9 L456.6 601.3 L458.2 600.3 L459.9 600.2 L461.3 599.9 L462.9 600.0 L464.5 600.2 L466.1 598.8 L467.7 599.1 L469.3 598.0 L470.5 597.6 L472.5 597.9 L474.1 599.0 L475.7 599.8 L477.2 599.8 L479.0 600.2 L480.4 600.5 L482.0 599.8 L483.6 599.2 L485.4 600.2 L486.8 599.6 L488.4 598.1 L490.0 597.9 L491.6 596.8 L493.8 595.9 L496.3 595.5 L497.9 595.4 L499.5 594.0 L501.1 594.3 L502.7 594.0 L504.3 594.3 L505.9 593.4 L507.5 592.7 L508.6 592.8 L510.6 591.9 L512.2 592.4 L513.8 590.6 L515.4 590.5 L517.0 590.1 L518.6 588.9 L520.2 588.5 L521.4 588.5 L523.4 587.0 L524.9 586.9 L526.5 587.1 L528.1 586.4 L529.7 584.9 L531.3 585.9 L532.9 584.1 L534.1 584.3 L536.1 583.0 L537.7 583.5 L539.3 582.4 L540.8 581.5 L542.4 581.5 L544.0 580.1 L545.6 579.7 L546.8 579.0 L548.8 578.0 L550.4 577.6 L552.0 577.0 L553.6 577.0 L555.2 575.6 L556.7 575.2 L558.3 573.7 L559.9 573.3 L561.5 573.8 L563.7 572.7 L566.3 571.6 L567.9 571.0 L569.5 570.9 L571.1 569.9 L572.6 569.5 L574.2 568.8 L575.8 567.4 L577.4 568.1 L578.5 567.4 L580.6 567.2 L582.2 566.3 L583.8 565.2 L585.4 564.6 L587.0 563.9 L588.5 563.7 L590.1 562.9 L591.7 561.6 L593.4 561.0 L594.9 560.2 L596.5 559.3 L598.1 558.4 L599.7 557.6 L601.3 557.0 L602.9 555.2 L604.4 555.6 L606.0 554.5 L608.2 553.6 L609.2 552.5 L610.8 552.2 L612.4 551.1 L614.0 551.2 L615.6 549.4 L617.2 549.1 L618.8 548.4 L620.3 547.1 L621.9 546.1 L623.0 546.2 L625.1 545.3 L626.7 544.1 L628.3 543.1 L629.9 542.1 L631.5 542.2 L633.1 541.8 L634.7 540.1 L635.7 539.8 L637.8 539.1 L639.4 538.7 L641.0 538.0 L642.6 536.6 L644.2 536.5 L645.8 535.9 L647.4 536.0 L648.4 534.5 L650.6 533.5 L652.1 533.0 L653.7 532.1 L655.3 531.2 L656.9 529.6 L659.0 529.0 L660.1 528.5 L661.7 528.1 L663.3 526.4 L664.9 525.7 L666.5 524.4 L668.0 523.9 L669.6 522.9 L671.2 522.2 L672.8 521.6 L674.4 520.3 L676.0 519.5 L677.6 518.7 L679.2 518.2 L680.2 517.6 L682.4 516.8 L683.9 517.1 L685.5 515.2 L687.1 515.2 L688.7 514.0 L690.8 513.4 L691.9 512.4 L693.5 512.0 L695.1 510.6 L696.7 509.5 L698.3 507.6 L699.8 508.2 L701.4 506.0 L703.0 505.8 L704.6 503.4 L706.2 502.0 L707.8 501.1 L709.4 500.4 L711.9 498.5 L714.2 496.8 L715.7 496.3 L717.3 495.0 L718.9 495.5 L720.5 493.3 L722.5 492.2 L723.7 490.4 L725.3 489.4 L726.9 486.5 L728.9 483.7 L730.1 482.8 L731.6 481.5 L733.2 480.5 L734.8 478.8 L736.4 477.7 L738.0 476.2 L739.5 475.2 L741.2 473.3 L742.8 472.5 L744.4 471.4 L746.0 470.8 L747.5 468.9 L750.1 466.8 L752.3 464.4 L753.9 463.0 L755.5 461.6 L757.1 458.8 L758.5 458.3 L760.3 455.5 L761.9 452.4 L763.4 450.2 L765.0 448.2 L767.0 445.6 L768.2 443.4 L769.8 440.7 L771.4 438.0 L773.0 435.8 L775.5 430.8 L777.8 427.6 L779.3 425.2 L780.9 422.5 L782.5 421.0 L783.9 418.1 L785.7 416.3 L787.3 413.4 L788.9 411.2 L790.3 409.6 L792.1 407.8 L793.7 405.9 L795.2 403.3 L796.8 402.0 L798.8 399.0 L800.0 397.3 L801.6 396.1 L803.2 395.1 L805.1 392.7 L806.4 391.7 L808.0 391.1 L809.6 390.0 L811.1 389.0 L812.7 387.3 L814.3 387.0 L815.7 386.3 L817.5 385.3 L819.1 384.3 L820.7 383.5 L822.3 382.6 L824.2 381.0 L825.5 380.4 L827.0 380.0 L828.6 380.3 L830.5 378.9 L831.8 379.8 L833.4 380.0" fill="none" stroke="#9a9aff" stroke-width="1.1" stroke-dasharray="5.5 2.4"/>
<path d="M119.5 413.8 L121.1 414.2 L122.7 413.9 L124.3 413.3 L125.9 413.5 L127.4 413.8 L129.6 413.8 L130.6 414.2 L132.2 415.2 L133.8 415.6 L135.4 416.4 L137.0 417.9 L138.6 418.3 L140.2 419.1 L141.8 419.6 L143.3 420.7 L144.9 422.1 L146.5 422.1 L148.1 422.6 L149.7 424.2 L150.8 424.4 L152.9 428.2 L154.5 430.4 L156.1 431.9 L157.7 434.0 L159.2 437.5 L161.4 440.3 L162.4 441.6 L164.0 443.9 L165.6 445.8 L167.2 448.5 L168.8 450.1 L170.4 452.0 L171.9 454.1 L173.6 456.2 L175.1 457.6 L176.7 460.0 L178.3 461.8 L179.9 463.0 L182.5 466.8 L184.7 468.6 L186.3 470.1 L187.9 471.6 L189.5 473.9 L191.0 475.8 L193.1 477.4 L194.2 478.3 L195.8 478.8 L197.4 479.8 L199.0 481.8 L200.6 482.5 L202.2 483.7 L203.7 484.8 L205.4 485.7 L206.9 486.7 L208.5 489.4 L210.1 489.7 L211.7 491.1 L214.3 493.2 L216.5 494.6 L218.1 496.8 L219.7 497.4 L221.3 498.7 L222.8 500.1 L224.9 501.7 L226.0 502.3 L227.6 503.8 L229.2 503.6 L230.8 505.3 L232.4 505.8 L234.0 506.8 L235.6 507.7 L237.6 509.1 L238.7 509.7 L240.3 509.8 L241.9 510.7 L243.5 511.8 L245.1 512.0 L246.7 512.7 L248.3 513.7 L250.3 514.4 L251.5 514.9 L253.1 515.5 L254.6 516.3 L256.2 516.7 L257.8 518.0 L259.4 518.0 L261.0 518.5 L262.6 519.9 L264.2 520.0 L265.8 520.8 L267.2 521.8 L269.0 522.3 L270.5 523.2 L272.1 523.4 L273.7 523.9 L275.3 524.5 L276.9 525.4 L278.5 525.6 L280.1 526.4 L282.1 527.1 L283.3 527.9 L284.9 527.9 L286.4 528.4 L288.0 528.7 L289.6 529.3 L291.2 529.6 L292.8 530.2 L294.4 530.9 L296.0 531.7 L297.6 532.3 L299.0 532.6 L300.8 533.1 L302.3 534.0 L303.9 534.0 L305.5 535.8 L307.1 536.6 L309.6 536.7 L311.9 537.3 L313.5 538.0 L315.1 538.3 L316.7 539.0 L318.2 538.9 L319.8 539.0 L321.4 540.3 L323.0 540.1 L324.4 540.9 L326.2 541.6 L327.8 541.7 L329.4 542.3 L331.0 543.4 L332.6 544.1 L334.1 544.0 L335.7 544.5 L337.1 545.1 L338.9 545.6 L340.5 545.7 L342.1 545.7 L343.7 546.7 L345.3 546.4 L346.9 547.7 L348.5 547.8 L349.8 548.3 L351.6 548.4 L353.2 548.0 L354.8 548.3 L356.4 548.9 L358.0 549.2 L359.6 549.1 L361.2 549.1 L362.8 548.6 L364.4 549.3 L365.9 549.3 L367.5 549.2 L368.9 549.4 L370.7 550.4 L372.3 550.1 L373.9 551.5 L375.5 551.1 L377.1 551.5 L379.5 552.5 L381.8 552.8 L383.4 552.7 L385.0 553.2 L386.6 553.7 L388.2 553.3 L389.8 553.9 L391.4 554.0 L393.0 554.6 L394.6 555.4 L396.4 555.3 L397.7 555.2 L399.3 555.3 L400.9 555.6 L402.5 555.2 L404.1 555.7 L405.7 555.5 L407.3 555.6 L408.9 555.3 L410.5 555.7 L412.1 556.4 L413.4 556.1 L415.2 556.3 L416.8 555.6 L418.4 555.5 L420.0 555.2 L421.6 554.8 L423.2 554.4 L424.8 555.4 L426.1 554.7 L428.0 554.2 L429.5 554.5 L431.1 554.9 L432.7 554.1 L434.3 554.1 L435.9 554.1 L437.5 553.8 L439.1 553.9 L440.7 553.6 L443.0 553.6 L445.4 553.7 L447.0 553.3 L448.6 552.5 L450.2 552.2 L451.8 552.3 L453.4 552.1 L455.0 551.8 L456.6 552.2 L458.2 551.5 L459.9 551.5 L461.3 550.9 L462.9 550.6 L464.5 549.4 L466.1 549.8 L467.7 549.3 L469.3 549.1 L470.5 548.3 L472.5 548.6 L474.1 549.3 L475.7 550.0 L477.2 550.3 L479.0 551.0 L480.4 550.6 L482.0 551.6 L484.3 551.5 L486.8 550.3 L488.4 549.8 L490.0 548.6 L491.6 548.5 L493.8 547.2 L496.3 546.4 L497.9 545.8 L499.5 545.9 L501.1 545.5 L502.7 544.4 L504.3 544.6 L505.9 544.3 L507.5 543.4 L508.6 543.0 L510.6 542.0 L512.2 542.3 L513.8 542.1 L515.4 540.9 L517.0 541.5 L518.6 540.4 L520.2 540.1 L521.4 539.8 L523.4 539.4 L524.9 538.4 L526.5 538.1 L528.1 537.0 L529.7 536.5 L531.3 535.7 L532.9 535.1 L534.1 534.5 L536.1 533.9 L537.7 533.2 L539.3 532.2 L540.8 532.0 L542.4 530.9 L544.0 530.7 L545.6 529.8 L547.2 528.9 L548.9 528.2 L550.4 527.2 L552.0 526.7 L553.6 526.4 L555.2 525.1 L556.7 524.6 L558.3 523.5 L559.9 522.6 L561.5 521.7 L563.7 520.8 L566.3 519.0 L567.9 519.1 L569.5 518.3 L571.1 517.6 L572.6 517.2 L574.2 515.9 L575.8 516.2 L577.4 514.4 L578.5 514.4 L580.6 513.6 L582.2 512.4 L583.8 512.1 L585.4 511.9 L587.0 510.3 L588.5 510.2 L590.1 509.5 L591.7 508.9 L593.4 508.1 L594.9 507.4 L596.5 506.8 L598.1 505.9 L599.7 505.1 L601.3 504.5 L602.9 503.6 L604.4 502.5 L606.0 501.4 L608.2 500.7 L609.2 500.5 L610.8 499.5 L612.4 499.5 L614.0 498.0 L615.6 497.1 L617.2 497.2 L618.8 495.9 L620.3 494.9 L621.9 495.2 L623.0 494.3 L625.1 492.7 L626.7 492.9 L628.3 491.3 L629.9 491.0 L631.5 490.1 L633.1 488.6 L634.7 488.4 L635.7 487.9 L637.8 486.9 L639.4 486.4 L641.0 485.9 L642.6 485.6 L644.2 484.3 L645.8 483.7 L647.4 483.9 L648.4 482.7 L650.6 481.7 L652.1 480.8 L653.7 479.1 L655.3 478.2 L656.9 477.6 L659.0 476.6 L660.1 475.9 L661.7 475.1 L663.3 475.0 L664.9 472.6 L666.5 471.9 L668.0 471.3 L669.6 470.2 L671.7 468.9 L672.8 468.8 L674.4 467.7 L676.0 466.8 L677.6 467.2 L679.2 465.9 L680.8 464.7 L682.4 464.3 L684.4 463.6 L685.5 463.0 L687.1 461.7 L688.7 461.7 L690.3 460.7 L691.9 459.7 L693.5 458.8 L695.1 458.8 L697.1 457.2 L698.3 456.5 L699.8 455.3 L701.4 453.9 L703.0 453.4 L704.6 453.1 L706.2 452.4 L707.8 450.5 L709.8 449.8 L711.0 448.4 L712.6 448.2 L714.2 447.2 L715.7 446.6 L717.3 445.1 L718.9 444.5 L720.5 442.9 L722.5 442.4 L723.7 441.0 L725.3 440.0 L726.9 438.7 L728.5 437.8 L730.1 436.8 L731.6 434.6 L733.1 433.9 L734.8 432.9 L736.4 430.7 L738.0 429.3 L739.6 428.5 L741.2 425.8 L743.7 424.4 L746.0 422.1 L747.5 421.0 L749.1 420.1 L750.7 419.1 L752.3 417.9 L754.3 415.9 L755.5 414.1 L757.1 412.7 L758.7 410.3 L760.3 409.0 L762.8 405.4 L765.0 402.6 L766.6 401.1 L768.1 399.0 L769.8 396.4 L771.4 394.9 L773.0 392.0 L774.6 390.4 L776.2 387.6 L777.6 386.3 L779.3 383.9 L780.9 381.5 L782.5 379.2 L784.1 377.5 L786.1 374.7 L787.3 373.3 L788.9 370.9 L790.5 368.7 L792.1 366.6 L794.5 363.0 L796.8 361.1 L798.4 359.4 L800.0 357.6 L801.6 356.6 L803.2 354.1 L805.1 352.4 L806.4 351.7 L808.0 349.7 L809.6 349.7 L811.1 347.5 L812.7 346.3 L814.3 345.5 L815.7 343.9 L817.5 342.5 L819.1 341.1 L820.7 339.6 L822.3 338.9 L824.2 337.6 L825.5 337.5 L827.0 335.8 L828.6 335.2 L830.5 333.4 L831.8 334.4 L833.4 335.0" fill="none" stroke="#7272ff" stroke-width="1.5" stroke-dasharray="7.5 3"/>
<path d="M119.5 353.5 L121.1 352.8 L122.7 352.7 L124.3 352.6 L125.9 352.7 L127.4 353.0 L129.6 352.8 L130.6 353.6 L132.2 354.1 L133.8 354.2 L136.0 355.6 L138.6 355.9 L140.2 357.1 L141.8 357.3 L143.3 358.3 L144.4 358.8 L146.5 360.3 L148.1 362.6 L149.7 362.6 L150.8 364.1 L152.9 368.0 L154.5 371.4 L156.1 373.6 L157.1 375.7 L159.2 378.6 L160.8 381.8 L162.4 383.0 L164.0 385.5 L165.6 388.4 L167.2 389.8 L168.8 392.1 L170.4 394.0 L172.0 395.5 L173.6 397.9 L174.6 398.5 L176.7 400.9 L178.3 402.7 L179.9 404.5 L181.5 406.8 L183.1 408.2 L184.7 409.9 L186.3 412.4 L187.9 414.1 L188.9 414.9 L191.0 416.9 L192.6 417.4 L194.2 418.7 L195.8 420.2 L197.4 421.5 L199.0 422.7 L200.6 424.0 L202.2 425.5 L203.7 426.5 L205.4 427.6 L206.9 429.3 L208.5 430.5 L210.1 431.8 L211.7 433.3 L213.3 434.9 L214.9 436.2 L216.5 437.2 L218.5 439.2 L219.7 439.9 L221.3 440.6 L222.8 441.5 L224.4 442.1 L226.0 443.2 L227.6 443.8 L229.2 444.2 L230.8 444.9 L232.4 445.7 L233.4 446.6 L235.6 447.8 L237.2 448.3 L238.7 449.2 L240.3 450.1 L241.9 451.3 L243.5 452.4 L245.1 452.5 L246.7 453.9 L248.2 454.1 L249.9 454.9 L251.5 455.8 L253.1 455.9 L254.6 456.3 L256.2 457.4 L257.8 458.3 L259.4 458.1 L261.0 459.2 L263.0 460.0 L264.2 460.4 L265.8 461.0 L267.4 461.0 L269.0 461.7 L270.5 462.6 L272.1 463.4 L273.7 463.4 L275.3 464.1 L277.8 464.6 L280.1 465.6 L281.7 466.3 L283.3 466.7 L284.9 467.4 L286.4 467.9 L288.4 468.9 L289.6 468.5 L291.6 467.8 L292.8 468.8 L294.4 469.5 L296.0 470.5 L297.6 471.1 L299.0 472.1 L300.8 472.5 L302.3 471.5 L303.9 472.3 L305.5 472.8 L307.5 473.1 L308.7 473.3 L310.3 475.0 L311.9 475.8 L313.5 476.4 L315.1 477.7 L316.7 478.2 L318.1 479.5 L319.8 479.0 L321.4 478.9 L323.0 478.4 L324.6 479.0 L326.5 478.4 L327.8 478.8 L329.4 480.1 L331.0 480.6 L332.6 481.5 L334.1 481.9 L335.7 482.9 L337.1 483.7 L338.9 483.9 L340.5 484.3 L342.1 484.9 L343.7 484.6 L345.3 485.0 L346.9 485.4 L348.5 485.8 L349.8 485.8 L351.6 486.1 L353.2 486.4 L354.8 486.6 L356.4 487.1 L358.0 487.5 L360.4 487.9 L362.8 487.4 L364.4 487.3 L365.9 487.4 L367.5 487.0 L369.1 486.6 L370.7 486.8 L373.1 486.3 L375.5 488.2 L377.1 489.3 L378.4 490.1 L380.3 490.5 L381.8 490.3 L383.4 490.7 L385.0 490.9 L386.6 491.0 L387.9 491.1 L389.8 491.0 L391.4 492.0 L393.0 492.5 L394.6 492.9 L396.4 493.2 L397.7 493.0 L399.3 493.1 L400.9 492.4 L402.5 492.5 L404.9 492.8 L407.3 492.2 L408.9 493.2 L410.5 494.0 L412.1 494.3 L413.4 493.9 L415.2 493.1 L416.8 493.2 L418.4 492.9 L419.7 492.2 L421.6 491.6 L423.2 490.7 L424.8 491.4 L426.4 490.4 L428.2 490.1 L429.5 490.0 L431.1 490.7 L432.7 490.4 L434.3 490.6 L435.9 490.9 L437.5 490.4 L439.1 490.3 L440.7 490.8 L443.0 490.7 L445.4 489.9 L447.2 489.4 L448.6 489.7 L450.2 489.8 L451.8 489.5 L453.4 489.9 L455.0 489.9 L456.6 490.1 L458.2 490.3 L459.8 490.5 L461.0 490.5 L462.9 489.3 L464.5 487.8 L466.1 487.3 L467.4 486.3 L469.3 486.8 L470.9 488.8 L472.7 489.0 L474.1 489.3 L475.7 490.2 L477.2 491.2 L479.0 491.5 L480.4 492.2 L482.0 492.7 L483.2 493.7 L485.2 493.3 L486.8 493.8 L488.5 493.7 L490.0 492.6 L491.6 491.4 L492.8 490.1 L494.7 490.0 L496.3 489.6 L497.9 489.8 L499.5 489.9 L501.1 489.1 L502.7 490.3 L504.4 489.0 L505.9 488.4 L507.5 488.5 L509.0 488.2 L510.6 487.4 L512.2 486.8 L513.8 486.4 L515.4 486.1 L517.1 485.2 L518.6 484.2 L520.2 485.0 L521.8 484.5 L523.4 484.3 L524.9 484.3 L526.5 484.2 L528.1 484.1 L529.8 483.7 L531.3 482.9 L532.9 482.8 L534.5 481.2 L536.1 480.9 L537.7 480.2 L539.3 480.0 L540.8 479.2 L542.4 478.8 L544.6 477.8 L545.6 477.7 L547.2 478.6 L548.9 478.4 L550.4 478.0 L552.0 476.9 L553.6 475.9 L555.2 475.4 L556.7 474.6 L558.3 474.8 L559.9 473.9 L561.5 472.6 L563.7 472.1 L566.3 471.7 L567.9 470.5 L569.5 469.4 L571.1 469.8 L572.6 469.3 L574.2 468.3 L575.8 467.5 L577.4 467.6 L578.5 466.8 L580.6 466.0 L582.2 465.7 L583.8 465.4 L585.4 464.9 L587.0 464.2 L588.5 463.6 L590.1 463.7 L591.7 462.3 L593.4 462.5 L594.9 461.8 L596.5 461.0 L598.1 460.3 L599.7 459.3 L601.3 458.6 L602.9 458.0 L604.4 456.7 L606.0 456.2 L608.2 455.1 L609.2 454.9 L610.8 454.0 L612.4 453.6 L614.0 453.9 L615.6 453.3 L617.2 452.3 L618.8 452.3 L620.3 451.8 L621.9 451.6 L623.0 450.9 L625.1 450.4 L626.7 448.6 L628.3 448.6 L629.9 448.4 L631.5 447.9 L633.1 446.5 L634.7 445.7 L635.7 445.6 L637.8 444.8 L639.4 443.9 L641.0 443.4 L642.6 442.4 L644.2 442.3 L645.8 441.6 L647.4 440.9 L648.4 440.3 L650.6 439.1 L652.1 438.3 L653.7 437.8 L655.3 437.7 L656.9 436.4 L659.0 436.1 L660.1 435.6 L661.7 435.0 L663.3 433.3 L664.9 432.5 L666.5 431.9 L668.0 430.9 L669.6 429.7 L671.2 428.9 L672.8 428.4 L674.4 427.8 L676.0 427.1 L677.6 426.7 L679.2 426.0 L680.2 425.5 L682.4 424.6 L683.9 422.7 L685.5 422.6 L687.1 421.6 L688.7 420.3 L690.8 419.1 L691.9 418.6 L693.5 417.8 L695.1 416.7 L696.7 415.5 L698.3 414.8 L699.8 413.5 L701.4 412.8 L703.0 411.3 L704.6 410.3 L706.2 409.2 L707.8 408.4 L709.4 407.4 L711.9 405.4 L714.2 404.2 L715.7 403.7 L717.3 402.4 L718.9 401.4 L720.5 400.5 L722.1 399.6 L723.6 399.0 L725.3 397.1 L726.9 395.8 L728.5 393.2 L730.1 392.1 L731.6 390.2 L733.2 388.7 L735.2 386.3 L736.4 385.2 L738.0 384.2 L739.6 382.5 L741.2 381.5 L742.8 379.4 L744.4 378.8 L746.0 377.6 L747.9 375.7 L749.1 374.4 L750.7 374.0 L752.3 372.3 L753.9 371.8 L755.5 370.4 L757.1 369.5 L758.5 368.3 L760.3 366.1 L761.9 363.5 L763.4 362.2 L764.9 359.8 L766.6 358.0 L768.2 355.2 L769.8 353.7 L771.4 351.6 L773.0 349.2 L775.5 346.1 L777.8 342.4 L779.3 340.7 L780.9 337.9 L782.5 335.9 L784.1 333.8 L786.1 330.2 L787.3 328.6 L788.9 325.7 L790.5 323.9 L792.1 320.8 L793.7 318.5 L795.2 317.3 L796.6 314.3 L798.4 312.0 L800.0 310.5 L801.6 308.2 L803.0 306.9 L804.8 306.0 L806.4 305.3 L808.0 303.6 L809.6 303.4 L811.5 302.6 L812.7 301.7 L814.3 300.4 L815.9 298.8 L817.5 297.0 L819.1 295.9 L820.7 294.2 L822.1 293.1 L823.9 291.9 L825.5 291.2 L827.0 291.0 L829.5 288.9 L831.8 291.1 L833.4 293.1" fill="none" stroke="#000" stroke-width="2.5" stroke-linejoin="round"/>
<rect x="119.5" y="39.3" width="713.9" height="726.1" fill="none" stroke="#000" stroke-width="1.25"/>
<line x1="119.5" y1="765.4" x2="119.5" y2="771.4" stroke="#000" stroke-width="1.2"/><text class="tk" transform="translate(119.1 791) scale(0.95 1.06)" text-anchor="middle">0</text>
<line x1="199.5" y1="765.4" x2="199.5" y2="771.4" stroke="#000" stroke-width="1.2"/><text class="tk" transform="translate(198.6 791) scale(0.95 1.06)" text-anchor="middle">50</text>
<line x1="278.5" y1="765.4" x2="278.5" y2="771.4" stroke="#000" stroke-width="1.2"/><text class="tk" transform="translate(278.1 791) scale(0.95 1.06)" text-anchor="middle">100</text>
<line x1="358.5" y1="765.4" x2="358.5" y2="771.4" stroke="#000" stroke-width="1.2"/><text class="tk" transform="translate(357.6 791) scale(0.95 1.06)" text-anchor="middle">150</text>
<line x1="437.5" y1="765.4" x2="437.5" y2="771.4" stroke="#000" stroke-width="1.2"/><text class="tk" transform="translate(437.1 791) scale(0.95 1.06)" text-anchor="middle">200</text>
<line x1="517.5" y1="765.4" x2="517.5" y2="771.4" stroke="#000" stroke-width="1.2"/><text class="tk" transform="translate(516.6 791) scale(0.95 1.06)" text-anchor="middle">250</text>
<line x1="596.5" y1="765.4" x2="596.5" y2="771.4" stroke="#000" stroke-width="1.2"/><text class="tk" transform="translate(596.1 791) scale(0.95 1.06)" text-anchor="middle">300</text>
<line x1="676.5" y1="765.4" x2="676.5" y2="771.4" stroke="#000" stroke-width="1.2"/><text class="tk" transform="translate(675.6 791) scale(0.95 1.06)" text-anchor="middle">350</text>
<line x1="755.5" y1="765.4" x2="755.5" y2="771.4" stroke="#000" stroke-width="1.2"/><text class="tk" transform="translate(755.1 791) scale(0.95 1.06)" text-anchor="middle">400</text>
<line x1="119.5" y1="191.5" x2="113.5" y2="191.5" stroke="#000" stroke-width="1.2"/><text class="tk" transform="translate(108 198.3) scale(0.95 1.06)" text-anchor="end">1</text>
<line x1="119.5" y1="346.5" x2="113.5" y2="346.5" stroke="#000" stroke-width="1.2"/><text class="tk" transform="translate(108 353.3) scale(0.95 1.06)" text-anchor="end">0</text>
<line x1="119.5" y1="501.5" x2="113.5" y2="501.5" stroke="#000" stroke-width="1.2"/><text class="tk" transform="translate(108 508.3) scale(0.95 1.06)" text-anchor="end">−1</text>
<line x1="119.5" y1="656.5" x2="113.5" y2="656.5" stroke="#000" stroke-width="1.2"/><text class="tk" transform="translate(108 663.3) scale(0.95 1.06)" text-anchor="end">−2</text>
<text class="tk" transform="translate(476.4 815.6) scale(1 1.06)" text-anchor="middle">Binned row index</text>
<text class="tk" transform="translate(71.3 402.3) rotate(-90) scale(1 1.06)" text-anchor="middle">UV aerosol index (354/388 nm)</text>
<rect x="119" y="17" width="714" height="21.8" rx="2.5" fill="#fff" fill-opacity="0.8" stroke="#ccc" stroke-width="1.2"/>
<line x1="124.2" y1="27.4" x2="147.7" y2="27.4" stroke="#d2d2fb" stroke-width="0.8" stroke-dasharray="2.75 1.2"/><text class="lg" x="156.7" y="31.8">1-99%</text>
<line x1="277.8" y1="27.4" x2="301.3" y2="27.4" stroke="#adadf8" stroke-width="1.0" stroke-dasharray="3.7 1.6"/><text class="lg" x="310.3" y="31.8">5-95%</text>
<line x1="432.3" y1="27.4" x2="455.8" y2="27.4" stroke="#8c8cf8" stroke-width="1.4" stroke-dasharray="5.5 2.4"/><text class="lg" x="464.8" y="31.8">10-90%</text>
<line x1="593.0" y1="27.4" x2="616.5" y2="27.4" stroke="#6e6eff" stroke-width="2.0" stroke-dasharray="7.9 2.5"/><text class="lg" x="625.5" y="31.8">25-75%</text>
<line x1="752.9" y1="27.4" x2="778.9" y2="27.4" stroke="#000" stroke-width="2.4"/><text class="lg" x="786.6" y="31.8">Median</text>
<line x1="119.5" y1="39.4" x2="833.4" y2="39.4" stroke="#8c8c8c" stroke-width="1.3"/>
</svg></body></html>
